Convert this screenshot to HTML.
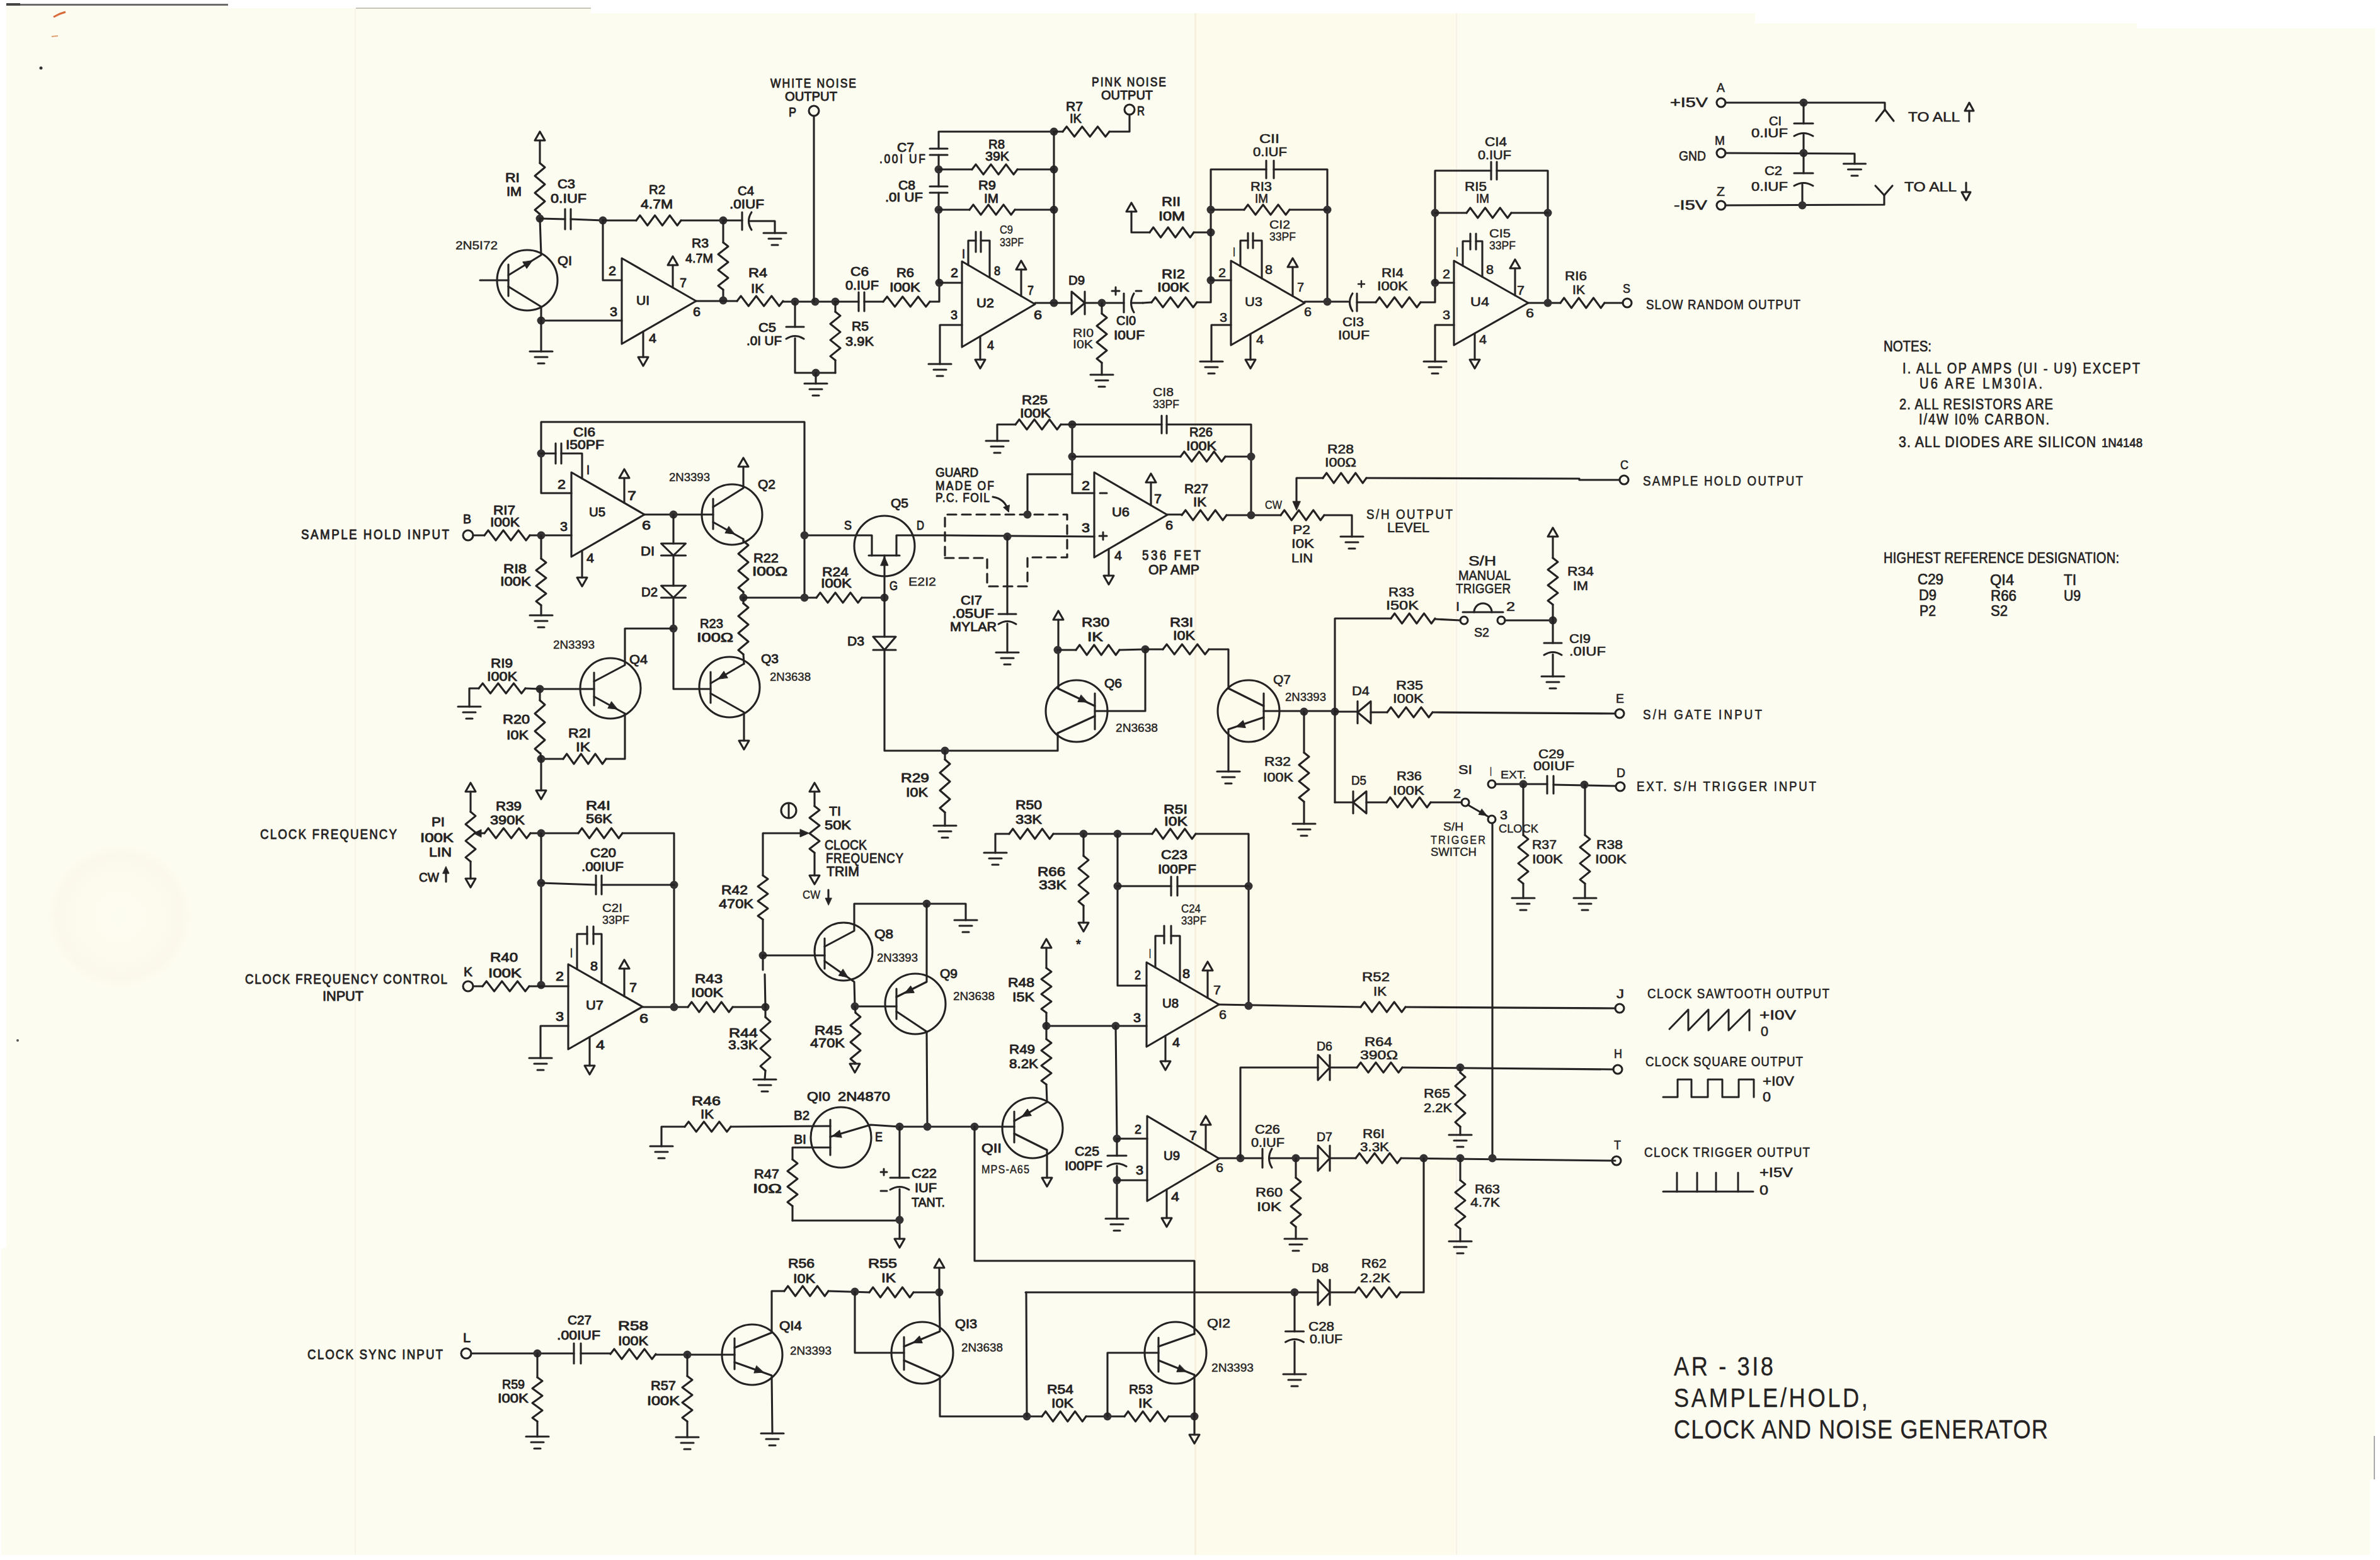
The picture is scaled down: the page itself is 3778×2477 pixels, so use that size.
<!DOCTYPE html>
<html><head><meta charset="utf-8"><style>
html,body{margin:0;padding:0;background:#ffffff;}
body{width:3778px;height:2477px;overflow:hidden;position:relative;}
svg{position:absolute;left:0;top:0;}
text{fill:#242222;stroke:#242222;stroke-width:0.9px;}
</style></head><body>
<svg width="3778" height="2477" viewBox="0 0 3778 2477">
<rect x="0" y="0" width="3778" height="2477" fill="#ffffff"/>
<path d="M10,8 L362,8 L362,13 L938,13 L938,21 L2786,21 L2786,37 L3392,37 L3392,45 L3770,45 L3770,2349 L3762,2349 L3762,2469 L2,2469 L2,1982 L10,1982 Z" fill="#fdfcf0"/>
<rect x="1898" y="21" width="412" height="2448" fill="#fdfbec"/>
<rect x="1896" y="21" width="3" height="2448" fill="#f6f0dc"/>
<rect x="2311" y="21" width="2" height="2448" fill="#f8f0e6"/>
<rect x="563" y="13" width="2" height="2456" fill="#f7f3e6"/>
<rect x="10" y="6" width="352" height="3" fill="#6a6a6a"/>
<rect x="10" y="5" width="22" height="4" fill="#444"/>
<defs><radialGradient id="stain"><stop offset="0" stop-color="#efe6cc" stop-opacity="0"/><stop offset="0.6" stop-color="#efe6cc" stop-opacity="0.07"/><stop offset="0.85" stop-color="#efe6cc" stop-opacity="0.16"/><stop offset="1" stop-color="#efe6cc" stop-opacity="0"/></radialGradient></defs>
<circle cx="190" cy="1455" r="115" fill="url(#stain)"/>
<circle cx="65" cy="108" r="2.5" fill="#333"/>
<circle cx="28" cy="1652" r="2" fill="#555"/>
<path d="M85,27 L95,22 L104,19" stroke="#d86a3a" stroke-width="3"/>
<path d="M82,58 L92,57" stroke="#e0a070" stroke-width="2"/>
<rect x="565" y="12" width="373" height="2" fill="#c8c4b8"/>
<rect x="3768" y="2280" width="2" height="69" fill="#aaaaaa"/>
<g fill="none" stroke="#242222" stroke-width="3.1" stroke-linejoin="round" stroke-linecap="round" font-family="Liberation Sans, sans-serif">
<g id="ink">
<path d="M857,209 L865.0,223 L849.0,223 Z"/>
<path d="M857.0,223.0 L857.0,259.0"/>
<path d="M857.0,259.0 L865.0,265.8 L849.0,279.2 L865.0,292.8 L849.0,306.2 L865.0,319.8 L849.0,333.2 L857.0,340.0"/>
<path d="M857.0,340.0 L857.0,347.0"/>
<circle cx="857" cy="347" r="6.5" fill="#353233" stroke="none"/>
<path d="M857.0,347.0 L897.0,348.0"/>
<path d="M897.0,332.0 L897.0,364.0"/>
<path d="M906.0,332.0 L906.0,364.0"/>
<path d="M906.0,348.0 L957.0,350.0"/>
<circle cx="957" cy="350" r="6.5" fill="#353233" stroke="none"/>
<path d="M957.0,350.0 L1010.0,350.0"/>
<path d="M1010.0,350.0 L1015.9,342.0 L1027.8,358.0 L1039.6,342.0 L1051.4,358.0 L1063.2,342.0 L1075.1,358.0 L1081.0,350.0"/>
<path d="M1081.0,350.0 L1148.0,350.0"/>
<circle cx="1148" cy="350" r="6.5" fill="#353233" stroke="none"/>
<path d="M1148.0,350.0 L1178.0,350.0"/>
<path d="M1178.0,337.0 L1178.0,365.0"/>
<path d="M1193,337.0 Q1184,351 1193,365.0"/>
<path d="M1190.0,351.0 L1230.0,351.0 L1230.0,370.0"/>
<path d="M1212.0,370.0 L1248.0,370.0"/>
<path d="M1220.0,379.0 L1240.0,379.0"/>
<path d="M1225.0,389.0 L1235.0,389.0"/>
<path d="M1148.0,350.0 L1148.0,385.0"/>
<path d="M1148.0,385.0 L1156.0,391.2 L1140.0,403.8 L1156.0,416.2 L1140.0,428.8 L1156.0,441.2 L1140.0,453.8 L1148.0,460.0"/>
<path d="M1148.0,460.0 L1148.0,477.0"/>
<circle cx="1148" cy="477" r="6.5" fill="#353233" stroke="none"/>
<path d="M987,410 L1105,478.0 L987,546 Z"/>
<path d="M957.0,350.0 L957.0,445.0 L987.0,445.0"/>
<path d="M859.0,509.0 L987.0,509.0"/>
<circle cx="859" cy="509" r="6.5" fill="#353233" stroke="none"/>
<path d="M1068.0,456.7 L1068.0,421.0"/>
<path d="M1068,407 L1076.0,421 L1060.0,421 Z"/>
<path d="M1021.0,526.4 L1021.0,567.0"/>
<path d="M1021,581 L1029.0,567 L1013.0,567 Z"/>
<path d="M1105.0,478.0 L1170.0,478.0"/>
<path d="M1170.0,478.0 L1176.1,470.0 L1188.2,486.0 L1200.4,470.0 L1212.6,486.0 L1224.8,470.0 L1236.9,486.0 L1243.0,478.0"/>
<path d="M1243.0,479.0 L1326.0,479.0"/>
<circle cx="1262" cy="479" r="6.5" fill="#353233" stroke="none"/>
<circle cx="1294" cy="479" r="6.5" fill="#353233" stroke="none"/>
<circle cx="1326" cy="479" r="6.5" fill="#353233" stroke="none"/>
<circle cx="837" cy="445" r="48" fill="none"/>
<path d="M762.0,445.0 L807.0,445.0"/>
<path d="M807.0,420.0 L807.0,470.0"/>
<path d="M807.0,437.0 L859.0,405.0 L857.0,347.0"/>
<path d="M845.0,414.0 L836.1,426.4 L829.9,416.1 Z" fill="#242222" stroke-width="1"/>
<path d="M807.0,455.0 L859.0,487.0 L859.0,558.0"/>
<path d="M841.0,558.0 L877.0,558.0"/>
<path d="M849.0,567.0 L869.0,567.0"/>
<path d="M854.0,577.0 L864.0,577.0"/>
<path d="M1262.0,479.0 L1262.0,519.0"/>
<path d="M1248.0,519.0 L1276.0,519.0"/>
<path d="M1248.0,538 Q1262,529 1276.0,538"/>
<path d="M1262.0,537.0 L1262.0,592.0 L1326.0,592.0"/>
<circle cx="1295" cy="592" r="6.5" fill="#353233" stroke="none"/>
<path d="M1295.0,592.0 L1295.0,609.0"/>
<path d="M1277.0,609.0 L1313.0,609.0"/>
<path d="M1285.0,618.0 L1305.0,618.0"/>
<path d="M1290.0,628.0 L1300.0,628.0"/>
<path d="M1326.0,479.0 L1326.0,495.0"/>
<path d="M1326.0,495.0 L1334.0,501.4 L1318.0,514.2 L1334.0,527.1 L1318.0,539.9 L1334.0,552.8 L1318.0,565.6 L1326.0,572.0"/>
<path d="M1326.0,572.0 L1326.0,592.0"/>
<text x="802" y="289" font-size="20.3" textLength="23" lengthAdjust="spacingAndGlyphs">RI</text>
<text x="804" y="311" font-size="20.3" textLength="24" lengthAdjust="spacingAndGlyphs">IM</text>
<text x="885" y="299" font-size="20.3" textLength="28" lengthAdjust="spacingAndGlyphs">C3</text>
<text x="874" y="322" font-size="20.3" textLength="57" lengthAdjust="spacingAndGlyphs">0.IUF</text>
<text x="1030" y="308" font-size="20.3" textLength="26" lengthAdjust="spacingAndGlyphs">R2</text>
<text x="1017" y="331" font-size="20.3" textLength="51" lengthAdjust="spacingAndGlyphs">4.7M</text>
<text x="1171" y="310" font-size="20.3" textLength="26" lengthAdjust="spacingAndGlyphs">C4</text>
<text x="1158" y="331" font-size="20.3" textLength="55" lengthAdjust="spacingAndGlyphs">.0IUF</text>
<text x="723" y="396" font-size="18.9" textLength="67" lengthAdjust="spacingAndGlyphs" style="stroke-width:0.4px">2N5I72</text>
<text x="885" y="421" font-size="20.3" textLength="23" lengthAdjust="spacingAndGlyphs">QI</text>
<text x="966" y="437" font-size="20.3" textLength="12" lengthAdjust="spacingAndGlyphs">2</text>
<text x="968" y="502" font-size="20.3" textLength="12" lengthAdjust="spacingAndGlyphs">3</text>
<text x="1010" y="484" font-size="20.3" textLength="21" lengthAdjust="spacingAndGlyphs">UI</text>
<text x="1079" y="456" font-size="20.3" textLength="11" lengthAdjust="spacingAndGlyphs">7</text>
<text x="1100" y="502" font-size="20.3" textLength="12" lengthAdjust="spacingAndGlyphs">6</text>
<text x="1030" y="544" font-size="20.3" textLength="12" lengthAdjust="spacingAndGlyphs">4</text>
<text x="1098" y="393" font-size="20.3" textLength="27" lengthAdjust="spacingAndGlyphs">R3</text>
<text x="1088" y="417" font-size="20.3" textLength="44" lengthAdjust="spacingAndGlyphs">4.7M</text>
<text x="1188" y="440" font-size="20.3" textLength="30" lengthAdjust="spacingAndGlyphs">R4</text>
<text x="1192" y="465" font-size="20.3" textLength="21" lengthAdjust="spacingAndGlyphs">IK</text>
<text x="1204" y="527" font-size="20.3" textLength="28" lengthAdjust="spacingAndGlyphs">C5</text>
<text x="1185" y="548" font-size="20.3" textLength="56" lengthAdjust="spacingAndGlyphs">.0I UF</text>
<text transform="translate(1223,139) scale(0.86,1)" x="0" y="0" font-size="20.3" textLength="158.1" lengthAdjust="spacing">WHITE NOISE</text>
<text x="1246" y="160" font-size="20.3" textLength="83" lengthAdjust="spacingAndGlyphs">OUTPUT</text>
<text x="1252" y="185" font-size="20.3" textLength="12" lengthAdjust="spacingAndGlyphs">P</text>
<circle cx="1292" cy="176" r="8" fill="none"/>
<path d="M1292.0,184.0 L1292.0,479.0"/>
<path d="M1326.0,479.0 L1363.0,479.0"/>
<path d="M1363.0,464.0 L1363.0,494.0"/>
<path d="M1372.0,464.0 L1372.0,494.0"/>
<path d="M1372.0,479.0 L1402.0,479.0"/>
<path d="M1402.0,479.0 L1408.2,471.0 L1420.5,487.0 L1432.8,471.0 L1445.2,487.0 L1457.5,471.0 L1469.8,487.0 L1476.0,479.0"/>
<path d="M1476.0,479.0 L1491.0,479.0 L1491.0,449.0"/>
<circle cx="1491" cy="449" r="6.5" fill="#353233" stroke="none"/>
<path d="M1491.0,449.0 L1527.0,449.0"/>
<path d="M1490.0,449.0 L1490.0,306.0"/>
<path d="M1490.0,296.0 L1490.0,246.0"/>
<path d="M1490.0,236.0 L1490.0,209.0 L1673.0,209.0"/>
<circle cx="1673" cy="209" r="6.5" fill="#353233" stroke="none"/>
<path d="M1476.0,236.0 L1504.0,236.0"/>
<path d="M1476.0,246.0 L1504.0,246.0"/>
<circle cx="1490" cy="269" r="6.5" fill="#353233" stroke="none"/>
<circle cx="1673" cy="269" r="6.5" fill="#353233" stroke="none"/>
<path d="M1490.0,269.0 L1543.0,269.0"/>
<path d="M1543.0,269.0 L1549.0,261.0 L1561.0,277.0 L1573.0,261.0 L1585.0,277.0 L1597.0,261.0 L1609.0,277.0 L1615.0,269.0"/>
<path d="M1615.0,269.0 L1673.0,269.0"/>
<path d="M1476.0,296.0 L1504.0,296.0"/>
<path d="M1476.0,306.0 L1504.0,306.0"/>
<circle cx="1490" cy="333" r="6.5" fill="#353233" stroke="none"/>
<circle cx="1673" cy="333" r="6.5" fill="#353233" stroke="none"/>
<path d="M1490.0,333.0 L1539.0,333.0"/>
<path d="M1539.0,333.0 L1545.0,325.0 L1557.0,341.0 L1569.0,325.0 L1581.0,341.0 L1593.0,325.0 L1605.0,341.0 L1611.0,333.0"/>
<path d="M1611.0,333.0 L1673.0,333.0"/>
<path d="M1673.0,209.0 L1673.0,481.0"/>
<circle cx="1673" cy="481" r="6.5" fill="#353233" stroke="none"/>
<path d="M1527,415 L1643,483.0 L1527,551 Z"/>
<path d="M1527.0,516.0 L1492.0,516.0 L1492.0,578.0"/>
<path d="M1474.0,578.0 L1510.0,578.0"/>
<path d="M1482.0,587.0 L1502.0,587.0"/>
<path d="M1487.0,597.0 L1497.0,597.0"/>
<path d="M1537.0,420.9 L1537.0,382.0 L1549.0,382.0"/>
<path d="M1571.0,440.8 L1571.0,382.0 L1557.0,382.0"/>
<path d="M1549.0,368.0 L1549.0,400.0"/>
<path d="M1557.0,368.0 L1557.0,400.0"/>
<path d="M1621.0,470.1 L1621.0,428.0"/>
<path d="M1621,414 L1629.0,428 L1613.0,428 Z"/>
<path d="M1556.0,534.0 L1556.0,571.0"/>
<path d="M1556,585 L1564.0,571 L1548.0,571 Z"/>
<path d="M1643.0,481.0 L1701.0,481.0"/>
<path d="M1701,463.0 L1722,481 L1701,499.0 Z"/>
<path d="M1722.0,463.0 L1722.0,499.0"/>
<path d="M1722.0,481.0 L1784.0,481.0"/>
<circle cx="1749" cy="481" r="6.5" fill="#353233" stroke="none"/>
<path d="M1749.0,481.0 L1749.0,498.0"/>
<path d="M1749.0,498.0 L1757.0,504.5 L1741.0,517.5 L1757.0,530.5 L1741.0,543.5 L1757.0,556.5 L1741.0,569.5 L1749.0,576.0"/>
<path d="M1749.0,576.0 L1749.0,595.0"/>
<path d="M1731.0,595.0 L1767.0,595.0"/>
<path d="M1739.0,604.0 L1759.0,604.0"/>
<path d="M1744.0,614.0 L1754.0,614.0"/>
<path d="M1784.0,466.0 L1784.0,496.0"/>
<path d="M1800,466.0 Q1791,481 1800,496.0"/>
<path d="M1797.0,481.0 L1814.0,481.0"/>
<path d="M1673.0,209.0 L1687.0,209.0"/>
<path d="M1687.0,209.0 L1693.2,201.0 L1705.5,217.0 L1717.8,201.0 L1730.2,217.0 L1742.5,201.0 L1754.8,217.0 L1761.0,209.0"/>
<path d="M1761.0,209.0 L1793.0,209.0 L1793.0,182.0"/>
<circle cx="1793" cy="174" r="8" fill="none"/>
<text x="1424" y="241" font-size="20.3" textLength="27" lengthAdjust="spacingAndGlyphs">C7</text>
<text transform="translate(1396,259) scale(0.86,1)" x="0" y="0" font-size="20.3" textLength="84.9" lengthAdjust="spacing">.00I UF</text>
<text x="1569" y="236" font-size="20.3" textLength="26" lengthAdjust="spacingAndGlyphs">R8</text>
<text x="1564" y="255" font-size="20.3" textLength="38" lengthAdjust="spacingAndGlyphs">39K</text>
<text x="1426" y="301" font-size="20.3" textLength="27" lengthAdjust="spacingAndGlyphs">C8</text>
<text x="1405" y="320" font-size="20.3" textLength="60" lengthAdjust="spacingAndGlyphs">.0I UF</text>
<text x="1553" y="301" font-size="20.3" textLength="28" lengthAdjust="spacingAndGlyphs">R9</text>
<text x="1562" y="322" font-size="20.3" textLength="23" lengthAdjust="spacingAndGlyphs">IM</text>
<text x="1587" y="371" font-size="18.9" textLength="21" lengthAdjust="spacingAndGlyphs" style="stroke-width:0.4px">C9</text>
<text x="1587" y="391" font-size="18.9" textLength="38" lengthAdjust="spacingAndGlyphs" style="stroke-width:0.4px">33PF</text>
<text x="1527" y="410" font-size="20.3" textLength="5" lengthAdjust="spacingAndGlyphs">I</text>
<text x="1509" y="440" font-size="20.3" textLength="12" lengthAdjust="spacingAndGlyphs">2</text>
<text x="1578" y="437" font-size="20.3" textLength="10" lengthAdjust="spacingAndGlyphs">8</text>
<text x="1631" y="468" font-size="20.3" textLength="10" lengthAdjust="spacingAndGlyphs">7</text>
<text x="1641" y="507" font-size="20.3" textLength="13" lengthAdjust="spacingAndGlyphs">6</text>
<text x="1509" y="507" font-size="20.3" textLength="11" lengthAdjust="spacingAndGlyphs">3</text>
<text x="1567" y="555" font-size="20.3" textLength="11" lengthAdjust="spacingAndGlyphs">4</text>
<text x="1550" y="488" font-size="20.3" textLength="28" lengthAdjust="spacingAndGlyphs">U2</text>
<text x="1350" y="438" font-size="20.3" textLength="29" lengthAdjust="spacingAndGlyphs">C6</text>
<text x="1342" y="460" font-size="20.3" textLength="53" lengthAdjust="spacingAndGlyphs">0.IUF</text>
<text x="1423" y="440" font-size="20.3" textLength="28" lengthAdjust="spacingAndGlyphs">R6</text>
<text x="1412" y="463" font-size="20.3" textLength="49" lengthAdjust="spacingAndGlyphs">I00K</text>
<text x="1352" y="525" font-size="20.3" textLength="27" lengthAdjust="spacingAndGlyphs">R5</text>
<text x="1342" y="549" font-size="20.3" textLength="45" lengthAdjust="spacingAndGlyphs">3.9K</text>
<text x="1696" y="452" font-size="20.3" textLength="26" lengthAdjust="spacingAndGlyphs">D9</text>
<text x="1703" y="535" font-size="18.9" textLength="33" lengthAdjust="spacingAndGlyphs" style="stroke-width:0.4px">RI0</text>
<text x="1703" y="553" font-size="18.9" textLength="32" lengthAdjust="spacingAndGlyphs" style="stroke-width:0.4px">I0K</text>
<text x="1772" y="516" font-size="20.3" textLength="31" lengthAdjust="spacingAndGlyphs">CI0</text>
<text x="1768" y="539" font-size="20.3" textLength="49" lengthAdjust="spacingAndGlyphs">I0UF</text>
<text x="1692" y="176" font-size="20.3" textLength="27" lengthAdjust="spacingAndGlyphs">R7</text>
<text x="1698" y="195" font-size="20.3" textLength="19" lengthAdjust="spacingAndGlyphs">IK</text>
<text transform="translate(1733,137) scale(0.86,1)" x="0" y="0" font-size="20.3" textLength="137.2" lengthAdjust="spacing">PINK NOISE</text>
<text x="1748" y="158" font-size="20.3" textLength="82" lengthAdjust="spacingAndGlyphs">OUTPUT</text>
<text x="1805" y="183" font-size="20.3" textLength="12" lengthAdjust="spacingAndGlyphs">R</text>
<path d="M1765.0,462.0 L1777.0,462.0" stroke-width="3"/>
<path d="M1771.0,456.0 L1771.0,468.0" stroke-width="3"/>
<path d="M1803.0,462.0 L1812.0,462.0" stroke-width="3"/>
<path d="M1796,322 L1804.0,336 L1788.0,336 Z"/>
<path d="M1796.0,336.0 L1796.0,369.0 L1825.0,369.0"/>
<path d="M1825.0,369.0 L1830.8,361.0 L1842.5,377.0 L1854.2,361.0 L1865.8,377.0 L1877.5,361.0 L1889.2,377.0 L1895.0,369.0"/>
<path d="M1895.0,369.0 L1922.0,369.0"/>
<circle cx="1922" cy="369" r="6.5" fill="#353233" stroke="none"/>
<path d="M1814.0,481.0 L1828.0,480.0"/>
<path d="M1828.0,480.0 L1834.0,472.0 L1846.0,488.0 L1858.0,472.0 L1870.0,488.0 L1882.0,472.0 L1894.0,488.0 L1900.0,480.0"/>
<path d="M1900.0,480.0 L1922.0,480.0 L1922.0,445.0"/>
<circle cx="1922" cy="445" r="6.5" fill="#353233" stroke="none"/>
<path d="M1922.0,445.0 L1954.0,445.0"/>
<path d="M1922.0,445.0 L1922.0,269.0 L2010.0,269.0"/>
<path d="M2010.0,255.0 L2010.0,283.0"/>
<path d="M2022.0,255.0 L2022.0,283.0"/>
<path d="M2022.0,269.0 L2107.0,269.0 L2107.0,479.0"/>
<circle cx="1922" cy="333" r="6.5" fill="#353233" stroke="none"/>
<circle cx="2107" cy="333" r="6.5" fill="#353233" stroke="none"/>
<path d="M1922.0,333.0 L1975.0,333.0"/>
<path d="M1975.0,333.0 L1981.0,325.0 L1993.0,341.0 L2005.0,325.0 L2017.0,341.0 L2029.0,325.0 L2041.0,341.0 L2047.0,333.0"/>
<path d="M2047.0,333.0 L2107.0,333.0"/>
<path d="M1954,414 L2071,481.0 L1954,548 Z"/>
<path d="M1954.0,516.0 L1923.0,516.0 L1923.0,574.0"/>
<path d="M1905.0,574.0 L1941.0,574.0"/>
<path d="M1913.0,583.0 L1933.0,583.0"/>
<path d="M1918.0,593.0 L1928.0,593.0"/>
<path d="M1969.0,422.6 L1969.0,382.0 L1981.0,382.0"/>
<path d="M1981.0,370.0 L1981.0,394.0"/>
<path d="M2003.0,442.1 L2003.0,382.0 L1989.0,382.0"/>
<path d="M1989.0,370.0 L1989.0,394.0"/>
<path d="M2052.0,470.1 L2052.0,424.0"/>
<path d="M2052,410 L2060.0,424 L2044.0,424 Z"/>
<path d="M1985.0,530.2 L1985.0,571.0"/>
<path d="M1985,585 L1993.0,571 L1977.0,571 Z"/>
<path d="M2071.0,479.0 L2140.0,479.0"/>
<circle cx="2107" cy="479" r="6.5" fill="#353233" stroke="none"/>
<path d="M2147,466.0 Q2138,480 2147,494.0"/>
<path d="M2154.0,466.0 L2154.0,494.0"/>
<path d="M2154.0,480.0 L2184.0,480.0"/>
<path d="M2184.0,480.0 L2189.9,472.0 L2201.8,488.0 L2213.6,472.0 L2225.4,488.0 L2237.2,472.0 L2249.1,488.0 L2255.0,480.0"/>
<path d="M2255.0,480.0 L2278.0,480.0 L2278.0,449.0"/>
<circle cx="2278" cy="449" r="6.5" fill="#353233" stroke="none"/>
<path d="M2276.0,457.0 L2276.0,451.0" stroke-width="0.1"/>
<path d="M2278.0,449.0 L2308.0,449.0"/>
<path d="M2161.0,446.0 L2161.0,456.0" stroke-width="2.5"/>
<path d="M2156.0,451.0 L2166.0,451.0" stroke-width="2.5"/>
<text x="1999" y="227" font-size="20.3" textLength="32" lengthAdjust="spacingAndGlyphs" style="stroke-width:0.6px">CII</text>
<text x="1989" y="248" font-size="20.3" textLength="54" lengthAdjust="spacingAndGlyphs" style="stroke-width:0.6px">0.IUF</text>
<text x="1985" y="303" font-size="20.3" textLength="34" lengthAdjust="spacingAndGlyphs" style="stroke-width:0.6px">RI3</text>
<text x="1992" y="322" font-size="20.3" textLength="21" lengthAdjust="spacingAndGlyphs" style="stroke-width:0.6px">IM</text>
<text x="1844" y="327" font-size="20.3" textLength="30" lengthAdjust="spacingAndGlyphs">RII</text>
<text x="1839" y="350" font-size="20.3" textLength="42" lengthAdjust="spacingAndGlyphs">I0M</text>
<text x="2015" y="363" font-size="18.9" textLength="33" lengthAdjust="spacingAndGlyphs" style="stroke-width:0.4px">CI2</text>
<text x="2015" y="382" font-size="18.9" textLength="42" lengthAdjust="spacingAndGlyphs" style="stroke-width:0.4px">33PF</text>
<text x="1844" y="442" font-size="20.3" textLength="37" lengthAdjust="spacingAndGlyphs">RI2</text>
<text x="1837" y="463" font-size="20.3" textLength="51" lengthAdjust="spacingAndGlyphs">I00K</text>
<text x="1934" y="440" font-size="20.3" textLength="12" lengthAdjust="spacingAndGlyphs" style="stroke-width:0.6px">2</text>
<text x="2008" y="435" font-size="20.3" textLength="12" lengthAdjust="spacingAndGlyphs" style="stroke-width:0.6px">8</text>
<text x="2059" y="463" font-size="20.3" textLength="11" lengthAdjust="spacingAndGlyphs" style="stroke-width:0.6px">7</text>
<text x="2070" y="502" font-size="20.3" textLength="12" lengthAdjust="spacingAndGlyphs" style="stroke-width:0.6px">6</text>
<text x="1936" y="511" font-size="20.3" textLength="12" lengthAdjust="spacingAndGlyphs" style="stroke-width:0.6px">3</text>
<text x="1994" y="546" font-size="20.3" textLength="12" lengthAdjust="spacingAndGlyphs" style="stroke-width:0.6px">4</text>
<text x="1957" y="407" font-size="20.3" textLength="4" lengthAdjust="spacingAndGlyphs" style="stroke-width:0.6px">I</text>
<text x="1976" y="486" font-size="20.3" textLength="28" lengthAdjust="spacingAndGlyphs" style="stroke-width:0.6px">U3</text>
<text x="2131" y="518" font-size="20.3" textLength="34" lengthAdjust="spacingAndGlyphs" style="stroke-width:0.6px">CI3</text>
<text x="2124" y="539" font-size="20.3" textLength="50" lengthAdjust="spacingAndGlyphs" style="stroke-width:0.6px">I0UF</text>
<text x="2193" y="440" font-size="20.3" textLength="35" lengthAdjust="spacingAndGlyphs" style="stroke-width:0.6px">RI4</text>
<text x="2186" y="461" font-size="20.3" textLength="49" lengthAdjust="spacingAndGlyphs" style="stroke-width:0.6px">I00K</text>
<text x="1830" y="629" font-size="18.9" textLength="33" lengthAdjust="spacingAndGlyphs" style="stroke-width:0.4px">CI8</text>
<text x="1830" y="648" font-size="18.9" textLength="42" lengthAdjust="spacingAndGlyphs" style="stroke-width:0.4px">33PF</text>
<path d="M2278.0,449.0 L2278.0,271.0 L2367.0,271.0"/>
<path d="M2367.0,257.0 L2367.0,285.0"/>
<path d="M2376.0,257.0 L2376.0,285.0"/>
<path d="M2376.0,271.0 L2457.0,271.0 L2457.0,481.0"/>
<circle cx="2278" cy="338" r="6.5" fill="#353233" stroke="none"/>
<circle cx="2457" cy="338" r="6.5" fill="#353233" stroke="none"/>
<path d="M2278.0,338.0 L2328.0,338.0"/>
<path d="M2328.0,338.0 L2333.9,330.0 L2345.8,346.0 L2357.6,330.0 L2369.4,346.0 L2381.2,330.0 L2393.1,346.0 L2399.0,338.0"/>
<path d="M2399.0,338.0 L2457.0,338.0"/>
<path d="M2308,414 L2426,481.0 L2308,548 Z"/>
<path d="M2308.0,516.0 L2278.0,516.0 L2278.0,574.0"/>
<path d="M2260.0,574.0 L2296.0,574.0"/>
<path d="M2268.0,583.0 L2288.0,583.0"/>
<path d="M2273.0,593.0 L2283.0,593.0"/>
<path d="M2322.0,421.9 L2322.0,383.0 L2334.0,383.0"/>
<path d="M2334.0,371.0 L2334.0,396.0"/>
<path d="M2353.0,439.6 L2353.0,383.0 L2343.0,383.0"/>
<path d="M2343.0,371.0 L2343.0,396.0"/>
<path d="M2405.0,469.1 L2405.0,426.0"/>
<path d="M2405,412 L2413.0,426 L2397.0,426 Z"/>
<path d="M2341.0,529.3 L2341.0,571.0"/>
<path d="M2341,585 L2349.0,571 L2333.0,571 Z"/>
<path d="M2426.0,481.0 L2477.0,481.0"/>
<circle cx="2457" cy="481" r="6.5" fill="#353233" stroke="none"/>
<path d="M2477.0,481.0 L2482.8,473.0 L2494.5,489.0 L2506.2,473.0 L2517.8,489.0 L2529.5,473.0 L2541.2,489.0 L2547.0,481.0"/>
<path d="M2547.0,481.0 L2576.0,481.0"/>
<circle cx="2583" cy="481" r="7" fill="none"/>
<text x="2357" y="232" font-size="20.3" textLength="35" lengthAdjust="spacingAndGlyphs" style="stroke-width:0.6px">CI4</text>
<text x="2346" y="253" font-size="20.3" textLength="53" lengthAdjust="spacingAndGlyphs" style="stroke-width:0.6px">0.IUF</text>
<text x="2325" y="303" font-size="20.3" textLength="35" lengthAdjust="spacingAndGlyphs" style="stroke-width:0.6px">RI5</text>
<text x="2343" y="322" font-size="20.3" textLength="21" lengthAdjust="spacingAndGlyphs" style="stroke-width:0.6px">IM</text>
<text x="2364" y="377" font-size="18.9" textLength="34" lengthAdjust="spacingAndGlyphs" style="stroke-width:0.4px">CI5</text>
<text x="2364" y="396" font-size="18.9" textLength="42" lengthAdjust="spacingAndGlyphs" style="stroke-width:0.4px">33PF</text>
<text x="2290" y="442" font-size="20.3" textLength="12" lengthAdjust="spacingAndGlyphs" style="stroke-width:0.6px">2</text>
<text x="2359" y="435" font-size="20.3" textLength="12" lengthAdjust="spacingAndGlyphs" style="stroke-width:0.6px">8</text>
<text x="2290" y="507" font-size="20.3" textLength="12" lengthAdjust="spacingAndGlyphs" style="stroke-width:0.6px">3</text>
<text x="2348" y="546" font-size="20.3" textLength="12" lengthAdjust="spacingAndGlyphs" style="stroke-width:0.6px">4</text>
<text x="2311" y="407" font-size="20.3" textLength="4" lengthAdjust="spacingAndGlyphs" style="stroke-width:0.6px">I</text>
<text x="2334" y="486" font-size="20.3" textLength="30" lengthAdjust="spacingAndGlyphs" style="stroke-width:0.6px">U4</text>
<text x="2408" y="468" font-size="20.3" textLength="12" lengthAdjust="spacingAndGlyphs" style="stroke-width:0.6px">7</text>
<text x="2422" y="504" font-size="20.3" textLength="13" lengthAdjust="spacingAndGlyphs" style="stroke-width:0.6px">6</text>
<text x="2484" y="445" font-size="20.3" textLength="35" lengthAdjust="spacingAndGlyphs" style="stroke-width:0.6px">RI6</text>
<text x="2496" y="467" font-size="20.3" textLength="20" lengthAdjust="spacingAndGlyphs" style="stroke-width:0.6px">IK</text>
<text x="2576" y="465" font-size="20.3" textLength="12" lengthAdjust="spacingAndGlyphs" style="stroke-width:0.6px">S</text>
<text transform="translate(2613,491) scale(0.86,1)" x="0" y="0" font-size="21.8" textLength="284.9" lengthAdjust="spacing" style="stroke-width:0.6px">SLOW RANDOM OUTPUT</text>
<circle cx="2732" cy="163" r="7" fill="none"/>
<path d="M2739.0,163.0 L2992.0,163.0 L2992.0,174.0"/>
<circle cx="2863" cy="163" r="6.5" fill="#353233" stroke="none"/>
<path d="M2978.0,192.0 L2992.0,174.0 L3006.0,192.0"/>
<path d="M2863.0,163.0 L2863.0,196.0"/>
<path d="M2848.0,196.0 L2878.0,196.0"/>
<path d="M2848.0,216 Q2863,207 2878.0,216"/>
<path d="M2863.0,214.0 L2863.0,243.0"/>
<circle cx="2732" cy="243" r="7" fill="none"/>
<path d="M2739.0,243.0 L2944.0,244.0 L2944.0,260.0"/>
<circle cx="2863" cy="243" r="6.5" fill="#353233" stroke="none"/>
<path d="M2926.5,260.0 L2961.5,260.0"/>
<path d="M2933.5,269.0 L2954.5,269.0"/>
<path d="M2939.0,279.0 L2949.0,279.0"/>
<path d="M2863.0,243.0 L2863.0,275.0"/>
<path d="M2848.0,275.0 L2878.0,275.0"/>
<path d="M2848.0,295 Q2863,286 2878.0,295"/>
<path d="M2861.0,293.0 L2861.0,326.0"/>
<circle cx="2732" cy="326" r="7" fill="none"/>
<path d="M2739.0,326.0 L2991.0,325.0 L2991.0,310.0"/>
<circle cx="2861" cy="326" r="6.5" fill="#353233" stroke="none"/>
<path d="M2977.0,295.0 L2991.0,310.0 L3004.0,295.0"/>
<path d="M3126,163 L3133.0,176 L3119.0,176 Z"/>
<path d="M3126.0,176.0 L3126.0,193.0"/>
<path d="M3121.0,290.0 L3121.0,304.0"/>
<path d="M3121,318 L3128.0,305 L3114.0,305 Z"/>
<text x="2651" y="170" font-size="21.8" textLength="60" lengthAdjust="spacingAndGlyphs" style="stroke-width:0.6px">+I5V</text>
<text x="2725" y="146" font-size="20.3" textLength="13" lengthAdjust="spacingAndGlyphs" style="stroke-width:0.6px">A</text>
<text x="2808" y="199" font-size="20.3" textLength="20" lengthAdjust="spacingAndGlyphs" style="stroke-width:0.6px">CI</text>
<text x="2780" y="218" font-size="20.3" textLength="58" lengthAdjust="spacingAndGlyphs" style="stroke-width:0.6px">0.IUF</text>
<text x="2722" y="230" font-size="20.3" textLength="16" lengthAdjust="spacingAndGlyphs" style="stroke-width:0.6px">M</text>
<text x="2665" y="255" font-size="21.8" textLength="43" lengthAdjust="spacingAndGlyphs" style="stroke-width:0.6px">GND</text>
<text x="2801" y="278" font-size="20.3" textLength="28" lengthAdjust="spacingAndGlyphs" style="stroke-width:0.6px">C2</text>
<text x="2780" y="303" font-size="20.3" textLength="58" lengthAdjust="spacingAndGlyphs" style="stroke-width:0.6px">0.IUF</text>
<text x="2725" y="311" font-size="20.3" textLength="13" lengthAdjust="spacingAndGlyphs" style="stroke-width:0.6px">Z</text>
<text x="2657" y="333" font-size="21.8" textLength="53" lengthAdjust="spacingAndGlyphs" style="stroke-width:0.6px">-I5V</text>
<text x="3029" y="193" font-size="21.8" textLength="82" lengthAdjust="spacingAndGlyphs" style="stroke-width:0.6px">TO ALL</text>
<text x="3023" y="304" font-size="21.8" textLength="83" lengthAdjust="spacingAndGlyphs" style="stroke-width:0.6px">TO ALL</text>
<text x="2990" y="558" font-size="23.3" textLength="76" lengthAdjust="spacingAndGlyphs" style="stroke-width:0.7px">NOTES:</text>
<text transform="translate(3020,593) scale(0.86,1)" x="0" y="0" font-size="23.3" textLength="438.4" lengthAdjust="spacing" style="stroke-width:0.7px">I. ALL OP AMPS (UI - U9) EXCEPT</text>
<text transform="translate(3047,617) scale(0.86,1)" x="0" y="0" font-size="23.3" textLength="226.7" lengthAdjust="spacing" style="stroke-width:0.7px">U6 ARE LM30IA.</text>
<text transform="translate(3015,650) scale(0.86,1)" x="0" y="0" font-size="23.3" textLength="283.7" lengthAdjust="spacing" style="stroke-width:0.7px">2. ALL RESISTORS ARE</text>
<text transform="translate(3046,674) scale(0.86,1)" x="0" y="0" font-size="23.3" textLength="240.7" lengthAdjust="spacing" style="stroke-width:0.7px">I/4W I0% CARBON.</text>
<text transform="translate(3014,710) scale(0.86,1)" x="0" y="0" font-size="24.7" textLength="364.0" lengthAdjust="spacing" style="stroke-width:0.7px">3. ALL DIODES ARE SILICON</text>
<text x="3336" y="710" font-size="20.3" textLength="65" lengthAdjust="spacingAndGlyphs" style="stroke-width:0.7px">1N4148</text>
<text transform="translate(2990,894) scale(0.86,1)" x="0" y="0" font-size="23.3" textLength="434.9" lengthAdjust="spacing" style="stroke-width:0.7px">HIGHEST REFERENCE DESIGNATION:</text>
<text x="3044" y="928" font-size="23.3" textLength="41" lengthAdjust="spacingAndGlyphs" style="stroke-width:0.7px">C29</text>
<text x="3159" y="929" font-size="23.3" textLength="38" lengthAdjust="spacingAndGlyphs" style="stroke-width:0.7px">QI4</text>
<text x="3276" y="929" font-size="23.3" textLength="20" lengthAdjust="spacingAndGlyphs" style="stroke-width:0.7px">TI</text>
<text x="3046" y="953" font-size="23.3" textLength="28" lengthAdjust="spacingAndGlyphs" style="stroke-width:0.7px">D9</text>
<text x="3160" y="954" font-size="23.3" textLength="41" lengthAdjust="spacingAndGlyphs" style="stroke-width:0.7px">R66</text>
<text x="3276" y="954" font-size="23.3" textLength="27" lengthAdjust="spacingAndGlyphs" style="stroke-width:0.7px">U9</text>
<text x="3047" y="978" font-size="23.3" textLength="26" lengthAdjust="spacingAndGlyphs" style="stroke-width:0.7px">P2</text>
<text x="3160" y="978" font-size="23.3" textLength="27" lengthAdjust="spacingAndGlyphs" style="stroke-width:0.7px">S2</text>
<path d="M907,750 L1023,817.0 L907,884 Z"/>
<circle cx="743" cy="850" r="8" fill="none"/>
<path d="M751.0,850.0 L769.0,850.0"/>
<path d="M769.0,850.0 L775.0,842.0 L787.0,858.0 L799.0,842.0 L811.0,858.0 L823.0,842.0 L835.0,858.0 L841.0,850.0"/>
<path d="M841.0,850.0 L907.0,850.0"/>
<circle cx="859" cy="850" r="6.5" fill="#353233" stroke="none"/>
<path d="M859.0,850.0 L859.0,887.0"/>
<path d="M859.0,887.0 L867.0,893.2 L851.0,905.5 L867.0,917.8 L851.0,930.2 L867.0,942.5 L851.0,954.8 L859.0,961.0"/>
<path d="M859.0,961.0 L859.0,977.0"/>
<path d="M841.0,977.0 L877.0,977.0"/>
<path d="M849.0,986.0 L869.0,986.0"/>
<path d="M854.0,996.0 L864.0,996.0"/>
<path d="M907.0,783.0 L859.0,783.0 L859.0,670.0 L1277.0,670.0 L1277.0,949.0"/>
<circle cx="859" cy="720" r="6.5" fill="#353233" stroke="none"/>
<path d="M859.0,720.0 L882.0,720.0"/>
<path d="M882.0,704.0 L882.0,736.0"/>
<path d="M891.0,704.0 L891.0,736.0"/>
<path d="M891.0,720.0 L924.0,720.0 L924.0,759.8"/>
<path d="M991.0,798.5 L991.0,759.0"/>
<path d="M991,745 L999.0,759 L983.0,759 Z"/>
<path d="M924.0,874.2 L924.0,917.0"/>
<path d="M924,931 L932.0,917 L916.0,917 Z"/>
<path d="M1023.0,817.0 L1132.0,817.0"/>
<circle cx="1069" cy="817" r="6.5" fill="#353233" stroke="none"/>
<path d="M1069.0,817.0 L1069.0,863.0"/>
<path d="M1049.5,863 L1088.5,863 L1069,882 Z"/>
<path d="M1049.5,882.0 L1088.5,882.0"/>
<path d="M1069.0,882.0 L1069.0,930.0"/>
<path d="M1049.5,930 L1088.5,930 L1069,949 Z"/>
<path d="M1049.5,949.0 L1088.5,949.0"/>
<path d="M1069.0,949.0 L1069.0,1094.0 L1128.0,1094.0"/>
<circle cx="1069" cy="998" r="6.5" fill="#353233" stroke="none"/>
<text transform="translate(478,856) scale(0.86,1)" x="0" y="0" font-size="21.8" textLength="273.3" lengthAdjust="spacing">SAMPLE HOLD INPUT</text>
<text x="735" y="831" font-size="20.3" textLength="13" lengthAdjust="spacingAndGlyphs">B</text>
<text x="783" y="817" font-size="20.3" textLength="35" lengthAdjust="spacingAndGlyphs">RI7</text>
<text x="778" y="836" font-size="20.3" textLength="47" lengthAdjust="spacingAndGlyphs">I00K</text>
<text x="910" y="693" font-size="20.3" textLength="35" lengthAdjust="spacingAndGlyphs">CI6</text>
<text x="898" y="713" font-size="20.3" textLength="61" lengthAdjust="spacingAndGlyphs">I50PF</text>
<text x="931" y="753" font-size="20.3" textLength="5" lengthAdjust="spacingAndGlyphs">I</text>
<text x="885" y="776" font-size="20.3" textLength="13" lengthAdjust="spacingAndGlyphs">2</text>
<text x="889" y="843" font-size="20.3" textLength="12" lengthAdjust="spacingAndGlyphs">3</text>
<text x="935" y="820" font-size="20.3" textLength="26" lengthAdjust="spacingAndGlyphs">U5</text>
<text x="996" y="794" font-size="20.3" textLength="14" lengthAdjust="spacingAndGlyphs">7</text>
<text x="1019" y="841" font-size="20.3" textLength="14" lengthAdjust="spacingAndGlyphs">6</text>
<text x="931" y="893" font-size="20.3" textLength="12" lengthAdjust="spacingAndGlyphs">4</text>
<text x="799" y="910" font-size="20.3" textLength="37" lengthAdjust="spacingAndGlyphs">RI8</text>
<text x="794" y="930" font-size="20.3" textLength="49" lengthAdjust="spacingAndGlyphs">I00K</text>
<text x="1017" y="882" font-size="20.3" textLength="22" lengthAdjust="spacingAndGlyphs">DI</text>
<text x="1018" y="947" font-size="20.3" textLength="26" lengthAdjust="spacingAndGlyphs">D2</text>
<circle cx="1162" cy="817" r="48" fill="none"/>
<path d="M1132.0,792.0 L1132.0,840.0"/>
<path d="M1132.0,805.0 L1180.0,775.0 L1180.0,741.0"/>
<path d="M1180,727 L1188.0,741 L1172.0,741 Z"/>
<path d="M1132.0,829.0 L1180.0,856.0"/>
<path d="M1166.0,848.0 L1150.9,846.4 L1156.7,835.9 Z" fill="#242222" stroke-width="1"/>
<path d="M1180.0,856.0 L1180.0,859.0"/>
<path d="M1180.0,859.0 L1188.0,865.8 L1172.0,879.2 L1188.0,892.8 L1172.0,906.2 L1188.0,919.8 L1172.0,933.2 L1180.0,940.0"/>
<path d="M1180.0,940.0 L1180.0,949.0"/>
<circle cx="1180" cy="949" r="6.5" fill="#353233" stroke="none"/>
<path d="M1180.0,949.0 L1296.0,949.0"/>
<circle cx="1277" cy="949" r="6.5" fill="#353233" stroke="none"/>
<path d="M1296.0,949.0 L1302.0,941.0 L1314.0,957.0 L1326.0,941.0 L1338.0,957.0 L1350.0,941.0 L1362.0,957.0 L1368.0,949.0"/>
<path d="M1368.0,949.0 L1404.0,949.0"/>
<circle cx="1404" cy="949" r="6.5" fill="#353233" stroke="none"/>
<path d="M1180.0,949.0 L1180.0,958.0"/>
<path d="M1180.0,958.0 L1188.0,964.8 L1172.0,978.2 L1188.0,991.8 L1172.0,1005.2 L1188.0,1018.8 L1172.0,1032.2 L1180.0,1039.0"/>
<path d="M1180.0,1039.0 L1181.0,1054.0"/>
<text x="1062" y="764" font-size="18.9" textLength="65" lengthAdjust="spacingAndGlyphs" style="stroke-width:0.4px">2N3393</text>
<text x="1203" y="776" font-size="20.3" textLength="28" lengthAdjust="spacingAndGlyphs">Q2</text>
<text x="1196" y="893" font-size="20.3" textLength="40" lengthAdjust="spacingAndGlyphs">R22</text>
<text x="1194" y="914" font-size="20.3" textLength="56" lengthAdjust="spacingAndGlyphs">I00Ω</text>
<text x="1111" y="997" font-size="20.3" textLength="37" lengthAdjust="spacingAndGlyphs">R23</text>
<text x="1106" y="1019" font-size="20.3" textLength="58" lengthAdjust="spacingAndGlyphs">I00Ω</text>
<text x="1305" y="915" font-size="20.3" textLength="42" lengthAdjust="spacingAndGlyphs">R24</text>
<text x="1303" y="933" font-size="20.3" textLength="49" lengthAdjust="spacingAndGlyphs">I00K</text>
<circle cx="1158" cy="1091" r="48" fill="none"/>
<path d="M1128.0,1067.0 L1128.0,1116.0"/>
<path d="M1181.0,1054.0 L1128.0,1085.0"/>
<path d="M1140.0,1078.0 L1149.1,1065.7 L1155.1,1076.1 Z" fill="#242222" stroke-width="1"/>
<path d="M1128.0,1101.0 L1181.0,1131.0 L1181.0,1176.0"/>
<path d="M1181,1190 L1189.0,1176 L1173.0,1176 Z"/>
<text x="1208" y="1053" font-size="20.3" textLength="28" lengthAdjust="spacingAndGlyphs">Q3</text>
<text x="1222" y="1081" font-size="18.9" textLength="65" lengthAdjust="spacingAndGlyphs" style="stroke-width:0.4px">2N3638</text>
<circle cx="969" cy="1093" r="48" fill="none"/>
<path d="M943.0,1068.0 L943.0,1120.0"/>
<path d="M857.0,1094.0 L943.0,1094.0"/>
<circle cx="857" cy="1094" r="6.5" fill="#353233" stroke="none"/>
<path d="M943.0,1082.0 L992.0,1056.0 L992.0,998.0 L1069.0,998.0"/>
<path d="M943.0,1106.0 L992.0,1133.0"/>
<path d="M980.0,1126.0 L964.8,1124.6 L970.5,1114.1 Z" fill="#242222" stroke-width="1"/>
<path d="M992.0,1133.0 L992.0,1205.0 L962.0,1205.0"/>
<path d="M894.0,1205.0 L899.7,1197.0 L911.0,1213.0 L922.3,1197.0 L933.7,1213.0 L945.0,1197.0 L956.3,1213.0 L962.0,1205.0"/>
<path d="M894.0,1205.0 L859.0,1205.0"/>
<circle cx="859" cy="1205" r="6.5" fill="#353233" stroke="none"/>
<path d="M745.0,1122.0 L745.0,1093.0 L760.0,1093.0"/>
<path d="M760.0,1093.0 L766.2,1085.0 L778.5,1101.0 L790.8,1085.0 L803.2,1101.0 L815.5,1085.0 L827.8,1101.0 L834.0,1093.0"/>
<path d="M834.0,1093.0 L857.0,1094.0"/>
<path d="M727.0,1122.0 L763.0,1122.0"/>
<path d="M735.0,1131.0 L755.0,1131.0"/>
<path d="M740.0,1141.0 L750.0,1141.0"/>
<path d="M857.0,1094.0 L857.0,1112.0"/>
<path d="M857.0,1112.0 L865.0,1119.0 L849.0,1133.0 L865.0,1147.0 L849.0,1161.0 L865.0,1175.0 L849.0,1189.0 L857.0,1196.0"/>
<path d="M858.0,1196.0 L859.0,1205.0 L859.0,1255.0"/>
<path d="M859,1269 L867.0,1255 L851.0,1255 Z"/>
<text x="878" y="1030" font-size="18.9" textLength="66" lengthAdjust="spacingAndGlyphs" style="stroke-width:0.4px">2N3393</text>
<text x="999" y="1054" font-size="20.3" textLength="29" lengthAdjust="spacingAndGlyphs">Q4</text>
<text x="779" y="1060" font-size="20.3" textLength="35" lengthAdjust="spacingAndGlyphs">RI9</text>
<text x="773" y="1081" font-size="20.3" textLength="48" lengthAdjust="spacingAndGlyphs">I00K</text>
<text x="798" y="1149" font-size="20.3" textLength="43" lengthAdjust="spacingAndGlyphs">R20</text>
<text x="804" y="1174" font-size="20.3" textLength="35" lengthAdjust="spacingAndGlyphs">I0K</text>
<text x="902" y="1171" font-size="20.3" textLength="36" lengthAdjust="spacingAndGlyphs">R2I</text>
<text x="914" y="1193" font-size="20.3" textLength="23" lengthAdjust="spacingAndGlyphs">IK</text>
<circle cx="1404" cy="867" r="48" fill="none"/>
<path d="M1277.0,850.0 L1384.0,850.0 L1384.0,882.0"/>
<path d="M1423.0,882.0 L1423.0,850.0 L1500.0,850.0"/>
<path d="M1379.0,882.0 L1428.0,882.0"/>
<path d="M1404.0,882.0 L1404.0,1011.0"/>
<path d="M1404.0,884.0 L1410.0,898.0 L1398.0,898.0 Z" fill="#242222" stroke-width="1"/>
<path d="M1386.0,1011 L1422.0,1011 L1404,1032 Z"/>
<path d="M1386.0,1032.0 L1422.0,1032.0"/>
<path d="M1404.0,1032.0 L1404.0,1192.0 L1679.0,1192.0 L1679.0,1164.0"/>
<circle cx="1277" cy="850" r="6.5" fill="#353233" stroke="none"/>
<circle cx="1500" cy="1192" r="6.5" fill="#353233" stroke="none"/>
<text x="1414" y="806" font-size="20.3" textLength="28" lengthAdjust="spacingAndGlyphs">Q5</text>
<text x="1340" y="841" font-size="20.3" textLength="12" lengthAdjust="spacingAndGlyphs">S</text>
<text x="1455" y="841" font-size="20.3" textLength="12" lengthAdjust="spacingAndGlyphs">D</text>
<text x="1412" y="937" font-size="20.3" textLength="13" lengthAdjust="spacingAndGlyphs">G</text>
<text x="1442" y="930" font-size="18.9" textLength="44" lengthAdjust="spacingAndGlyphs" style="stroke-width:0.4px">E2I2</text>
<text x="1345" y="1025" font-size="20.3" textLength="27" lengthAdjust="spacingAndGlyphs">D3</text>
<text x="1485" y="757" font-size="20.3" textLength="68" lengthAdjust="spacingAndGlyphs">GUARD</text>
<text transform="translate(1485,778) scale(0.86,1)" x="0" y="0" font-size="20.3" textLength="108.1" lengthAdjust="spacing">MADE OF</text>
<text transform="translate(1485,797) scale(0.86,1)" x="0" y="0" font-size="20.3" textLength="100.0" lengthAdjust="spacing">P.C. FOIL</text>
<path d="M1576,789 Q1595,792 1600,810" />
<path d="M1601.0,813.0 L1592.7,805.5 L1602.1,801.9 Z" fill="#242222" stroke-width="1"/>
<path d="M1500,886 L1567,886 L1567,931 L1631,931 L1631,885 L1694,885 L1694,817 L1500,817 Z" stroke-dasharray="14,9" stroke-width="3.2"/>
<path d="M1500.0,850.0 L1737.0,852.0"/>
<circle cx="1599" cy="852" r="6.5" fill="#353233" stroke="none"/>
<path d="M1599.0,852.0 L1599.0,975.0"/>
<path d="M1585.0,975.0 L1613.0,975.0"/>
<path d="M1585.0,991 Q1599,982 1613.0,991"/>
<path d="M1599.0,990.0 L1599.0,1036.0"/>
<path d="M1581.0,1036.0 L1617.0,1036.0"/>
<path d="M1589.0,1045.0 L1609.0,1045.0"/>
<path d="M1594.0,1055.0 L1604.0,1055.0"/>
<text x="1525" y="960" font-size="20.3" textLength="34" lengthAdjust="spacingAndGlyphs">CI7</text>
<text x="1511" y="981" font-size="20.3" textLength="67" lengthAdjust="spacingAndGlyphs">.05UF</text>
<text x="1508" y="1002" font-size="20.3" textLength="74" lengthAdjust="spacingAndGlyphs">MYLAR</text>
<path d="M1737,750 L1853,817.5 L1737,885 Z"/>
<path d="M1737.0,783.0 L1702.0,783.0 L1702.0,674.0"/>
<circle cx="1702" cy="725" r="6.5" fill="#353233" stroke="none"/>
<circle cx="1702" cy="674" r="6.5" fill="#353233" stroke="none"/>
<path d="M1702.0,753.0 L1631.0,753.0 L1631.0,817.0"/>
<circle cx="1631" cy="817" r="6.5" fill="#353233" stroke="none"/>
<path d="M1583.0,700.0 L1583.0,674.0 L1612.0,674.0"/>
<path d="M1565.0,700.0 L1601.0,700.0"/>
<path d="M1573.0,709.0 L1593.0,709.0"/>
<path d="M1578.0,719.0 L1588.0,719.0"/>
<path d="M1612.0,674.0 L1618.0,666.0 L1630.0,682.0 L1642.0,666.0 L1654.0,682.0 L1666.0,666.0 L1678.0,682.0 L1684.0,674.0"/>
<path d="M1684.0,674.0 L1844.0,674.0"/>
<path d="M1844.0,660.0 L1844.0,688.0"/>
<path d="M1852.0,660.0 L1852.0,688.0"/>
<path d="M1852.0,674.0 L1986.0,674.0 L1986.0,818.0"/>
<path d="M1702.0,725.0 L1874.0,725.0"/>
<path d="M1874.0,725.0 L1879.9,717.0 L1891.8,733.0 L1903.6,717.0 L1915.4,733.0 L1927.2,717.0 L1939.1,733.0 L1945.0,725.0"/>
<path d="M1945.0,725.0 L1986.0,725.0"/>
<circle cx="1986" cy="725" r="6.5" fill="#353233" stroke="none"/>
<path d="M1827.0,802.4 L1827.0,766.0"/>
<path d="M1827,752 L1835.0,766 L1819.0,766 Z"/>
<path d="M1760.0,871.6 L1760.0,914.0"/>
<path d="M1760,928 L1768.0,914 L1752.0,914 Z"/>
<path d="M1853.0,817.0 L1876.0,817.0"/>
<path d="M1876.0,818.0 L1881.9,810.0 L1893.8,826.0 L1905.6,810.0 L1917.4,826.0 L1929.2,810.0 L1941.1,826.0 L1947.0,818.0"/>
<path d="M1947.0,818.0 L2033.0,818.0"/>
<circle cx="1986" cy="818" r="6.5" fill="#353233" stroke="none"/>
<path d="M2033.0,818.0 L2038.8,810.0 L2050.2,826.0 L2061.8,810.0 L2073.2,826.0 L2084.8,810.0 L2096.2,826.0 L2102.0,818.0"/>
<path d="M2102.0,818.0 L2146.0,818.0 L2146.0,852.0"/>
<path d="M2128.0,852.0 L2164.0,852.0"/>
<path d="M2136.0,861.0 L2156.0,861.0"/>
<path d="M2141.0,871.0 L2151.0,871.0"/>
<path d="M2100.0,759.0 L2058.0,759.0 L2058.0,796.0"/>
<path d="M2058.0,810.0 L2052.0,796.0 L2064.0,796.0 Z" fill="#242222" stroke-width="1"/>
<path d="M1746.0,783.0 L1757.0,783.0" stroke-width="3"/>
<path d="M1745.0,851.0 L1757.0,851.0" stroke-width="3"/>
<path d="M1751.0,845.0 L1751.0,857.0" stroke-width="3"/>
<text x="1622" y="642" font-size="20.3" textLength="41" lengthAdjust="spacingAndGlyphs">R25</text>
<text x="1619" y="663" font-size="20.3" textLength="49" lengthAdjust="spacingAndGlyphs">I00K</text>
<text x="1888" y="693" font-size="20.3" textLength="37" lengthAdjust="spacingAndGlyphs">R26</text>
<text x="1883" y="715" font-size="20.3" textLength="48" lengthAdjust="spacingAndGlyphs">I00K</text>
<text x="1717" y="778" font-size="20.3" textLength="13" lengthAdjust="spacingAndGlyphs">2</text>
<text x="1717" y="845" font-size="20.3" textLength="13" lengthAdjust="spacingAndGlyphs">3</text>
<text x="1832" y="799" font-size="20.3" textLength="12" lengthAdjust="spacingAndGlyphs">7</text>
<text x="1850" y="841" font-size="20.3" textLength="12" lengthAdjust="spacingAndGlyphs">6</text>
<text x="1769" y="889" font-size="20.3" textLength="12" lengthAdjust="spacingAndGlyphs">4</text>
<text x="1765" y="820" font-size="20.3" textLength="28" lengthAdjust="spacingAndGlyphs">U6</text>
<text transform="translate(1813,889) scale(0.86,1)" x="0" y="0" font-size="21.8" textLength="108.1" lengthAdjust="spacing">536 FET</text>
<text x="1823" y="912" font-size="21.8" textLength="81" lengthAdjust="spacingAndGlyphs">OP AMP</text>
<text x="1880" y="783" font-size="20.3" textLength="38" lengthAdjust="spacingAndGlyphs">R27</text>
<text x="1894" y="804" font-size="20.3" textLength="21" lengthAdjust="spacingAndGlyphs">IK</text>
<text x="2008" y="808" font-size="18.9" textLength="27" lengthAdjust="spacingAndGlyphs" style="stroke-width:0.4px">CW</text>
<text x="2052" y="848" font-size="20.3" textLength="28" lengthAdjust="spacingAndGlyphs" style="stroke-width:0.6px">P2</text>
<text x="2050" y="870" font-size="20.3" textLength="36" lengthAdjust="spacingAndGlyphs" style="stroke-width:0.6px">I0K</text>
<text x="2050" y="893" font-size="20.3" textLength="34" lengthAdjust="spacingAndGlyphs" style="stroke-width:0.6px">LIN</text>
<text x="2107" y="720" font-size="20.3" textLength="42" lengthAdjust="spacingAndGlyphs" style="stroke-width:0.6px">R28</text>
<text x="2103" y="741" font-size="20.3" textLength="50" lengthAdjust="spacingAndGlyphs" style="stroke-width:0.6px">I00Ω</text>
<path d="M2100.0,759.0 L2100.0,759.0"/>
<path d="M2100.0,759.0 L2105.8,751.0 L2117.2,767.0 L2128.8,751.0 L2140.2,767.0 L2151.8,751.0 L2163.2,767.0 L2169.0,759.0"/>
<path d="M2169.0,759.0 L2507.0,760.0 L2507.0,762.0 L2571.0,762.0"/>
<circle cx="2578" cy="762" r="7" fill="none"/>
<text x="2572" y="745" font-size="20.3" textLength="13" lengthAdjust="spacingAndGlyphs" style="stroke-width:0.6px">C</text>
<text transform="translate(2608,771) scale(0.86,1)" x="0" y="0" font-size="21.8" textLength="295.3" lengthAdjust="spacing" style="stroke-width:0.6px">SAMPLE HOLD OUTPUT</text>
<text transform="translate(2169,824) scale(0.86,1)" x="0" y="0" font-size="21.8" textLength="159.3" lengthAdjust="spacing" style="stroke-width:0.6px">S/H OUTPUT</text>
<text x="2202" y="845" font-size="21.8" textLength="67" lengthAdjust="spacingAndGlyphs" style="stroke-width:0.6px">LEVEL</text>
<path d="M1680,970 L1688.0,984 L1672.0,984 Z"/>
<path d="M1680.0,984.0 L1680.0,1093.0"/>
<circle cx="1679" cy="1032" r="6.5" fill="#353233" stroke="none"/>
<path d="M1679.0,1032.0 L1708.0,1032.0"/>
<path d="M1708.0,1032.0 L1713.8,1024.0 L1725.2,1040.0 L1736.8,1024.0 L1748.2,1040.0 L1759.8,1024.0 L1771.2,1040.0 L1777.0,1032.0"/>
<path d="M1777.0,1032.0 L1818.0,1031.0"/>
<circle cx="1818" cy="1031" r="6.5" fill="#353233" stroke="none"/>
<path d="M1846.0,1031.0 L1852.1,1023.0 L1864.2,1039.0 L1876.4,1023.0 L1888.6,1039.0 L1900.8,1023.0 L1912.9,1039.0 L1919.0,1031.0"/>
<path d="M1818.0,1031.0 L1846.0,1031.0"/>
<path d="M1919.0,1031.0 L1950.0,1031.0 L1950.0,1093.0"/>
<circle cx="1709" cy="1129" r="49" fill="none"/>
<path d="M1738.0,1101.0 L1738.0,1158.0"/>
<path d="M1679.0,1093.0 L1738.0,1121.0"/>
<path d="M1726.0,1115.0 L1710.8,1114.5 L1715.9,1103.6 Z" fill="#242222" stroke-width="1"/>
<path d="M1738.0,1137.0 L1679.0,1164.0"/>
<path d="M1738.0,1129.0 L1818.0,1129.0 L1818.0,1031.0"/>
<circle cx="1982" cy="1129" r="49" fill="none"/>
<path d="M2006.0,1101.0 L2006.0,1158.0"/>
<path d="M1950.0,1093.0 L2006.0,1121.0"/>
<path d="M2006.0,1139.0 L1950.0,1158.0 L1950.0,1225.0"/>
<path d="M1962.0,1154.0 L1973.3,1143.8 L1977.2,1155.2 Z" fill="#242222" stroke-width="1"/>
<path d="M1932.0,1225.0 L1968.0,1225.0"/>
<path d="M1940.0,1234.0 L1960.0,1234.0"/>
<path d="M1945.0,1244.0 L1955.0,1244.0"/>
<path d="M2006.0,1129.0 L2119.0,1129.0"/>
<circle cx="2070" cy="1130" r="6.5" fill="#353233" stroke="none"/>
<circle cx="2119" cy="1130" r="6.5" fill="#353233" stroke="none"/>
<path d="M2070.0,1130.0 L2070.0,1195.0"/>
<path d="M2070.0,1195.0 L2078.0,1201.5 L2062.0,1214.5 L2078.0,1227.5 L2062.0,1240.5 L2078.0,1253.5 L2062.0,1266.5 L2070.0,1273.0"/>
<path d="M2070.0,1273.0 L2070.0,1308.0"/>
<path d="M2052.0,1308.0 L2088.0,1308.0"/>
<path d="M2060.0,1317.0 L2080.0,1317.0"/>
<path d="M2065.0,1327.0 L2075.0,1327.0"/>
<text x="1717" y="995" font-size="20.3" textLength="44" lengthAdjust="spacingAndGlyphs">R30</text>
<text x="1726" y="1018" font-size="20.3" textLength="25" lengthAdjust="spacingAndGlyphs">IK</text>
<text x="1857" y="995" font-size="20.3" textLength="37" lengthAdjust="spacingAndGlyphs">R3I</text>
<text x="1862" y="1016" font-size="20.3" textLength="35" lengthAdjust="spacingAndGlyphs">I0K</text>
<text x="1753" y="1092" font-size="20.3" textLength="28" lengthAdjust="spacingAndGlyphs">Q6</text>
<text x="1771" y="1162" font-size="18.9" textLength="67" lengthAdjust="spacingAndGlyphs" style="stroke-width:0.4px">2N3638</text>
<text x="2021" y="1086" font-size="20.3" textLength="28" lengthAdjust="spacingAndGlyphs" style="stroke-width:0.6px">Q7</text>
<text x="2040" y="1113" font-size="18.9" textLength="65" lengthAdjust="spacingAndGlyphs" style="stroke-width:0.4px">2N3393</text>
<text x="2007" y="1216" font-size="20.3" textLength="42" lengthAdjust="spacingAndGlyphs" style="stroke-width:0.6px">R32</text>
<text x="2005" y="1241" font-size="20.3" textLength="48" lengthAdjust="spacingAndGlyphs" style="stroke-width:0.6px">I00K</text>
<path d="M1500.0,1192.0 L1500.0,1206.0"/>
<path d="M1500.0,1206.0 L1508.0,1213.0 L1492.0,1227.0 L1508.0,1241.0 L1492.0,1255.0 L1508.0,1269.0 L1492.0,1283.0 L1500.0,1290.0"/>
<path d="M1500.0,1290.0 L1500.0,1311.0"/>
<path d="M1482.0,1311.0 L1518.0,1311.0"/>
<path d="M1490.0,1320.0 L1510.0,1320.0"/>
<path d="M1495.0,1330.0 L1505.0,1330.0"/>
<text x="1430" y="1242" font-size="20.3" textLength="45" lengthAdjust="spacingAndGlyphs">R29</text>
<text x="1438" y="1265" font-size="20.3" textLength="35" lengthAdjust="spacingAndGlyphs">I0K</text>
<path d="M2119.0,1274.0 L2119.0,982.0 L2208.0,982.0"/>
<path d="M2208.0,982.0 L2213.8,974.0 L2225.5,990.0 L2237.2,974.0 L2248.8,990.0 L2260.5,974.0 L2272.2,990.0 L2278.0,982.0"/>
<path d="M2278.0,983.0 L2318.0,985.0"/>
<circle cx="2324" cy="985" r="6" fill="none"/>
<circle cx="2383" cy="985" r="6" fill="none"/>
<path d="M2389.0,985.0 L2465.0,985.0"/>
<circle cx="2465" cy="985" r="6.5" fill="#353233" stroke="none"/>
<path d="M2322.0,972.0 L2386.0,972.0"/>
<path d="M2340,972 A14,14 0 0 1 2368,972"/>
<path d="M2465,838 L2473.0,852 L2457.0,852 Z"/>
<path d="M2465.0,852.0 L2465.0,886.0"/>
<path d="M2465.0,886.0 L2473.0,892.2 L2457.0,904.5 L2473.0,916.8 L2457.0,929.2 L2473.0,941.5 L2457.0,953.8 L2465.0,960.0"/>
<path d="M2465.0,960.0 L2465.0,1021.0"/>
<path d="M2451.0,1021.0 L2479.0,1021.0"/>
<path d="M2451.0,1040 Q2465,1031 2479.0,1040"/>
<path d="M2465.0,1039.0 L2465.0,1074.0"/>
<path d="M2447.0,1074.0 L2483.0,1074.0"/>
<path d="M2455.0,1083.0 L2475.0,1083.0"/>
<path d="M2460.0,1093.0 L2470.0,1093.0"/>
<text x="2331" y="898" font-size="21.8" textLength="44" lengthAdjust="spacingAndGlyphs" style="stroke-width:0.6px">S/H</text>
<text x="2315" y="921" font-size="21.8" textLength="83" lengthAdjust="spacingAndGlyphs" style="stroke-width:0.6px">MANUAL</text>
<text transform="translate(2311,942) scale(0.86,1)" x="0" y="0" font-size="21.8" textLength="101.2" lengthAdjust="spacing" style="stroke-width:0.6px">TRIGGER</text>
<text x="2204" y="947" font-size="20.3" textLength="41" lengthAdjust="spacingAndGlyphs" style="stroke-width:0.6px">R33</text>
<text x="2200" y="968" font-size="20.3" textLength="52" lengthAdjust="spacingAndGlyphs" style="stroke-width:0.6px">I50K</text>
<text x="2311" y="970" font-size="20.3" textLength="6" lengthAdjust="spacingAndGlyphs" style="stroke-width:0.6px">I</text>
<text x="2391" y="970" font-size="20.3" textLength="14" lengthAdjust="spacingAndGlyphs" style="stroke-width:0.6px">2</text>
<text x="2340" y="1011" font-size="20.3" textLength="24" lengthAdjust="spacingAndGlyphs" style="stroke-width:0.6px">S2</text>
<text x="2488" y="914" font-size="20.3" textLength="42" lengthAdjust="spacingAndGlyphs" style="stroke-width:0.6px">R34</text>
<text x="2497" y="937" font-size="20.3" textLength="24" lengthAdjust="spacingAndGlyphs" style="stroke-width:0.6px">IM</text>
<text x="2491" y="1021" font-size="20.3" textLength="34" lengthAdjust="spacingAndGlyphs" style="stroke-width:0.6px">CI9</text>
<text x="2491" y="1041" font-size="20.3" textLength="58" lengthAdjust="spacingAndGlyphs" style="stroke-width:0.6px">.0IUF</text>
<path d="M2119.0,1130.0 L2155.0,1130.0"/>
<path d="M2176,1113.5 L2155,1131 L2176,1148.5 Z"/>
<path d="M2155.0,1113.5 L2155.0,1148.5"/>
<path d="M2176.0,1131.0 L2202.0,1131.0"/>
<path d="M2202.0,1131.0 L2208.0,1123.0 L2220.0,1139.0 L2232.0,1123.0 L2244.0,1139.0 L2256.0,1123.0 L2268.0,1139.0 L2274.0,1131.0"/>
<path d="M2274.0,1131.0 L2564.0,1133.0"/>
<circle cx="2571" cy="1133" r="7" fill="none"/>
<text x="2146" y="1104" font-size="20.3" textLength="28" lengthAdjust="spacingAndGlyphs" style="stroke-width:0.6px">D4</text>
<text x="2216" y="1095" font-size="20.3" textLength="43" lengthAdjust="spacingAndGlyphs" style="stroke-width:0.6px">R35</text>
<text x="2211" y="1116" font-size="20.3" textLength="49" lengthAdjust="spacingAndGlyphs" style="stroke-width:0.6px">I00K</text>
<text x="2565" y="1116" font-size="20.3" textLength="13" lengthAdjust="spacingAndGlyphs" style="stroke-width:0.6px">E</text>
<text transform="translate(2608,1142) scale(0.86,1)" x="0" y="0" font-size="21.8" textLength="219.8" lengthAdjust="spacing" style="stroke-width:0.6px">S/H GATE INPUT</text>
<path d="M2119.0,1274.0 L2148.0,1274.0"/>
<path d="M2169,1256.5 L2148,1274 L2169,1291.5 Z"/>
<path d="M2148.0,1256.5 L2148.0,1291.5"/>
<path d="M2169.0,1274.0 L2201.0,1274.0"/>
<path d="M2201.0,1274.0 L2206.8,1266.0 L2218.5,1282.0 L2230.2,1266.0 L2241.8,1282.0 L2253.5,1266.0 L2265.2,1282.0 L2271.0,1274.0"/>
<path d="M2271.0,1274.0 L2320.0,1274.0"/>
<circle cx="2326" cy="1274" r="6" fill="none"/>
<path d="M2330.0,1278.0 L2363.0,1297.0"/>
<path d="M2360.0,1295.0 L2347.1,1293.4 L2352.0,1284.7 Z" fill="#242222" stroke-width="1"/>
<circle cx="2368" cy="1301" r="6" fill="none"/>
<circle cx="2368" cy="1245" r="6" fill="none"/>
<path d="M2374.0,1245.0 L2456.0,1245.0"/>
<circle cx="2418" cy="1245" r="6.5" fill="#353233" stroke="none"/>
<path d="M2456.0,1232.0 L2456.0,1260.0"/>
<path d="M2466.0,1232.0 L2466.0,1260.0"/>
<path d="M2466.0,1246.0 L2564.0,1248.0"/>
<circle cx="2515" cy="1246" r="6.5" fill="#353233" stroke="none"/>
<circle cx="2572" cy="1249" r="7" fill="none"/>
<path d="M2418.0,1245.0 L2418.0,1326.0"/>
<path d="M2418.0,1326.0 L2426.0,1332.4 L2410.0,1345.2 L2426.0,1358.1 L2410.0,1370.9 L2426.0,1383.8 L2410.0,1396.6 L2418.0,1403.0"/>
<path d="M2418.0,1403.0 L2418.0,1426.0"/>
<path d="M2400.0,1426.0 L2436.0,1426.0"/>
<path d="M2408.0,1435.0 L2428.0,1435.0"/>
<path d="M2413.0,1445.0 L2423.0,1445.0"/>
<path d="M2516.0,1246.0 L2516.0,1326.0"/>
<path d="M2516.0,1326.0 L2524.0,1332.4 L2508.0,1345.2 L2524.0,1358.1 L2508.0,1370.9 L2524.0,1383.8 L2508.0,1396.6 L2516.0,1403.0"/>
<path d="M2516.0,1403.0 L2516.0,1426.0"/>
<path d="M2498.0,1426.0 L2534.0,1426.0"/>
<path d="M2506.0,1435.0 L2526.0,1435.0"/>
<path d="M2511.0,1445.0 L2521.0,1445.0"/>
<path d="M2369.0,1307.0 L2369.0,1839.0"/>
<text x="2145" y="1246" font-size="20.3" textLength="24" lengthAdjust="spacingAndGlyphs" style="stroke-width:0.6px">D5</text>
<text x="2217" y="1239" font-size="20.3" textLength="40" lengthAdjust="spacingAndGlyphs" style="stroke-width:0.6px">R36</text>
<text x="2211" y="1262" font-size="20.3" textLength="50" lengthAdjust="spacingAndGlyphs" style="stroke-width:0.6px">I00K</text>
<text x="2315" y="1229" font-size="20.3" textLength="22" lengthAdjust="spacingAndGlyphs" style="stroke-width:0.6px">SI</text>
<text x="2307" y="1267" font-size="20.3" textLength="12" lengthAdjust="spacingAndGlyphs" style="stroke-width:0.6px">2</text>
<text x="2365" y="1232" font-size="20.3" textLength="3" lengthAdjust="spacingAndGlyphs" style="stroke-width:0.6px">I</text>
<text x="2382" y="1236" font-size="17.4" textLength="41" lengthAdjust="spacingAndGlyphs" style="stroke-width:0.4px">EXT.</text>
<text x="2442" y="1204" font-size="20.3" textLength="41" lengthAdjust="spacingAndGlyphs" style="stroke-width:0.6px">C29</text>
<text x="2434" y="1223" font-size="20.3" textLength="65" lengthAdjust="spacingAndGlyphs" style="stroke-width:0.6px">00IUF</text>
<text x="2566" y="1234" font-size="20.3" textLength="14" lengthAdjust="spacingAndGlyphs" style="stroke-width:0.6px">D</text>
<text x="2381" y="1301" font-size="20.3" textLength="12" lengthAdjust="spacingAndGlyphs" style="stroke-width:0.6px">3</text>
<text x="2379" y="1322" font-size="18.9" textLength="63" lengthAdjust="spacingAndGlyphs" style="stroke-width:0.4px">CLOCK</text>
<text x="2291" y="1319" font-size="18.9" textLength="32" lengthAdjust="spacingAndGlyphs" style="stroke-width:0.4px">S/H</text>
<text transform="translate(2271,1340) scale(0.86,1)" x="0" y="0" font-size="18.9" textLength="101.2" lengthAdjust="spacing" style="stroke-width:0.4px">TRIGGER</text>
<text x="2271" y="1359" font-size="18.9" textLength="73" lengthAdjust="spacingAndGlyphs" style="stroke-width:0.4px">SWITCH</text>
<text x="2432" y="1348" font-size="20.3" textLength="39" lengthAdjust="spacingAndGlyphs" style="stroke-width:0.6px">R37</text>
<text x="2432" y="1371" font-size="20.3" textLength="49" lengthAdjust="spacingAndGlyphs" style="stroke-width:0.6px">I00K</text>
<text x="2534" y="1348" font-size="20.3" textLength="42" lengthAdjust="spacingAndGlyphs" style="stroke-width:0.6px">R38</text>
<text x="2532" y="1371" font-size="20.3" textLength="50" lengthAdjust="spacingAndGlyphs" style="stroke-width:0.6px">I00K</text>
<text transform="translate(2598,1256) scale(0.86,1)" x="0" y="0" font-size="21.8" textLength="331.4" lengthAdjust="spacing" style="stroke-width:0.6px">EXT. S/H TRIGGER INPUT</text>
<path d="M747,1243 L755.0,1257 L739.0,1257 Z"/>
<path d="M747.0,1257.0 L747.0,1289.0"/>
<path d="M747.0,1289.0 L755.0,1295.6 L739.0,1308.8 L755.0,1321.9 L739.0,1335.1 L755.0,1348.2 L739.0,1361.4 L747.0,1368.0"/>
<path d="M747.0,1368.0 L747.0,1395.0"/>
<path d="M747,1409 L755.0,1395 L739.0,1395 Z"/>
<path d="M769.0,1323.0 L762.0,1323.0"/>
<path d="M752.0,1323.0 L764.0,1317.0 L764.0,1329.0 Z" fill="#242222" stroke-width="1"/>
<path d="M769.0,1323.0 L775.1,1315.0 L787.2,1331.0 L799.4,1315.0 L811.6,1331.0 L823.8,1315.0 L835.9,1331.0 L842.0,1323.0"/>
<path d="M842.0,1323.0 L918.0,1323.0"/>
<circle cx="859" cy="1323" r="6.5" fill="#353233" stroke="none"/>
<path d="M918.0,1323.0 L923.8,1315.0 L935.5,1331.0 L947.2,1315.0 L958.8,1331.0 L970.5,1315.0 L982.2,1331.0 L988.0,1323.0"/>
<path d="M988.0,1323.0 L1070.0,1323.0 L1070.0,1599.0"/>
<path d="M859.0,1323.0 L859.0,1566.0"/>
<circle cx="859" cy="1402" r="6.5" fill="#353233" stroke="none"/>
<circle cx="1070" cy="1405" r="6.5" fill="#353233" stroke="none"/>
<circle cx="859" cy="1564" r="6.5" fill="#353233" stroke="none"/>
<path d="M859.0,1402.0 L946.0,1405.0"/>
<path d="M946.0,1390.0 L946.0,1420.0"/>
<path d="M955.0,1390.0 L955.0,1420.0"/>
<path d="M955.0,1405.0 L1070.0,1405.0"/>
<path d="M708.0,1400.0 L708.0,1386.0"/>
<path d="M708.0,1376.0 L713.0,1387.0 L703.0,1387.0 Z" fill="#242222" stroke-width="1"/>
<text transform="translate(413,1332) scale(0.86,1)" x="0" y="0" font-size="21.8" textLength="252.3" lengthAdjust="spacing">CLOCK FREQUENCY</text>
<text x="685" y="1312" font-size="20.3" textLength="21" lengthAdjust="spacingAndGlyphs">PI</text>
<text x="667" y="1337" font-size="20.3" textLength="53" lengthAdjust="spacingAndGlyphs">I00K</text>
<text x="681" y="1360" font-size="20.3" textLength="36" lengthAdjust="spacingAndGlyphs">LIN</text>
<text x="665" y="1400" font-size="20.3" textLength="32" lengthAdjust="spacingAndGlyphs">CW</text>
<text x="787" y="1287" font-size="20.3" textLength="41" lengthAdjust="spacingAndGlyphs">R39</text>
<text x="778" y="1309" font-size="20.3" textLength="55" lengthAdjust="spacingAndGlyphs">390K</text>
<text x="930" y="1286" font-size="20.3" textLength="39" lengthAdjust="spacingAndGlyphs">R4I</text>
<text x="930" y="1307" font-size="20.3" textLength="42" lengthAdjust="spacingAndGlyphs">56K</text>
<text x="937" y="1361" font-size="20.3" textLength="41" lengthAdjust="spacingAndGlyphs">C20</text>
<text x="923" y="1383" font-size="20.3" textLength="67" lengthAdjust="spacingAndGlyphs">.00IUF</text>
<text x="956" y="1448" font-size="18.9" textLength="32" lengthAdjust="spacingAndGlyphs" style="stroke-width:0.4px">C2I</text>
<text x="956" y="1467" font-size="18.9" textLength="43" lengthAdjust="spacingAndGlyphs" style="stroke-width:0.4px">33PF</text>
<path d="M902,1531 L1020,1598.5 L902,1666 Z"/>
<circle cx="743" cy="1566" r="8" fill="none"/>
<path d="M751.0,1566.0 L766.0,1566.0"/>
<path d="M766.0,1566.0 L772.2,1558.0 L784.5,1574.0 L796.8,1558.0 L809.2,1574.0 L821.5,1558.0 L833.8,1574.0 L840.0,1566.0"/>
<path d="M840.0,1566.0 L902.0,1566.0"/>
<path d="M902.0,1629.0 L858.0,1629.0 L858.0,1680.0"/>
<path d="M840.0,1680.0 L876.0,1680.0"/>
<path d="M848.0,1689.0 L868.0,1689.0"/>
<path d="M853.0,1699.0 L863.0,1699.0"/>
<path d="M916.0,1539.0 L916.0,1483.0 L932.0,1483.0"/>
<path d="M932.0,1471.0 L932.0,1499.0"/>
<path d="M955.0,1561.3 L955.0,1483.0 L942.0,1483.0"/>
<path d="M942.0,1471.0 L942.0,1499.0"/>
<path d="M991.0,1581.9 L991.0,1538.0"/>
<path d="M991,1524 L999.0,1538 L983.0,1538 Z"/>
<path d="M936.0,1646.6 L936.0,1692.0"/>
<path d="M936,1706 L944.0,1692 L928.0,1692 Z"/>
<path d="M1020.0,1599.0 L1092.0,1599.0"/>
<circle cx="1070" cy="1599" r="6.5" fill="#353233" stroke="none"/>
<path d="M1092.0,1599.0 L1097.9,1591.0 L1109.8,1607.0 L1121.6,1591.0 L1133.4,1607.0 L1145.2,1591.0 L1157.1,1607.0 L1163.0,1599.0"/>
<path d="M1163.0,1599.0 L1215.0,1599.0"/>
<circle cx="1215" cy="1599" r="6.5" fill="#353233" stroke="none"/>
<text transform="translate(389,1562) scale(0.86,1)" x="0" y="0" font-size="21.8" textLength="373.3" lengthAdjust="spacing">CLOCK FREQUENCY CONTROL</text>
<text x="512" y="1589" font-size="21.8" textLength="65" lengthAdjust="spacingAndGlyphs">INPUT</text>
<text x="736" y="1550" font-size="20.3" textLength="14" lengthAdjust="spacingAndGlyphs">K</text>
<text x="778" y="1527" font-size="20.3" textLength="44" lengthAdjust="spacingAndGlyphs">R40</text>
<text x="775" y="1552" font-size="20.3" textLength="53" lengthAdjust="spacingAndGlyphs">I00K</text>
<text x="882" y="1557" font-size="20.3" textLength="13" lengthAdjust="spacingAndGlyphs">2</text>
<text x="882" y="1621" font-size="20.3" textLength="13" lengthAdjust="spacingAndGlyphs">3</text>
<text x="905" y="1520" font-size="20.3" textLength="4" lengthAdjust="spacingAndGlyphs">I</text>
<text x="937" y="1541" font-size="20.3" textLength="12" lengthAdjust="spacingAndGlyphs">8</text>
<text x="999" y="1575" font-size="20.3" textLength="12" lengthAdjust="spacingAndGlyphs">7</text>
<text x="930" y="1603" font-size="20.3" textLength="28" lengthAdjust="spacingAndGlyphs">U7</text>
<text x="1015" y="1624" font-size="20.3" textLength="14" lengthAdjust="spacingAndGlyphs">6</text>
<text x="946" y="1666" font-size="20.3" textLength="14" lengthAdjust="spacingAndGlyphs">4</text>
<text x="1103" y="1561" font-size="20.3" textLength="44" lengthAdjust="spacingAndGlyphs">R43</text>
<text x="1097" y="1583" font-size="20.3" textLength="51" lengthAdjust="spacingAndGlyphs">I00K</text>
<path d="M1211.0,1390.0 L1211.0,1323.0 L1270.0,1323.0"/>
<path d="M1284.0,1323.0 L1270.0,1329.0 L1270.0,1317.0 Z" fill="#242222" stroke-width="1"/>
<path d="M1211.0,1390.0 L1219.0,1395.8 L1203.0,1407.5 L1219.0,1419.2 L1203.0,1430.8 L1219.0,1442.5 L1203.0,1454.2 L1211.0,1460.0"/>
<path d="M1211.0,1460.0 L1211.0,1517.0"/>
<circle cx="1211" cy="1517" r="6.5" fill="#353233" stroke="none"/>
<path d="M1211.0,1517.0 L1211.0,1540.0"/>
<path d="M1214.0,1547.0 L1215.0,1599.0"/>
<path d="M1211.0,1517.0 L1309.0,1517.0"/>
<path d="M1293,1243 L1301.0,1257 L1285.0,1257 Z"/>
<path d="M1293.0,1257.0 L1293.0,1280.0"/>
<path d="M1293.0,1280.0 L1301.0,1286.2 L1285.0,1298.5 L1301.0,1310.8 L1285.0,1323.2 L1301.0,1335.5 L1285.0,1347.8 L1293.0,1354.0"/>
<path d="M1293.0,1354.0 L1293.0,1390.0"/>
<path d="M1293,1404 L1301.0,1390 L1285.0,1390 Z"/>
<circle cx="1252" cy="1287" r="12" fill="none"/>
<path d="M1252.0,1277.0 L1252.0,1297.0" stroke-width="3"/>
<path d="M1315.0,1413.0 L1315.0,1427.0"/>
<path d="M1315.0,1437.0 L1310.0,1426.0 L1320.0,1426.0 Z" fill="#242222" stroke-width="1"/>
<path d="M1215.0,1599.0 L1215.0,1615.0"/>
<path d="M1215.0,1615.0 L1223.0,1622.1 L1207.0,1636.2 L1223.0,1650.4 L1207.0,1664.6 L1223.0,1678.8 L1207.0,1692.9 L1215.0,1700.0"/>
<path d="M1215.0,1700.0 L1214.0,1714.0"/>
<path d="M1196.0,1714.0 L1232.0,1714.0"/>
<path d="M1204.0,1723.0 L1224.0,1723.0"/>
<path d="M1209.0,1733.0 L1219.0,1733.0"/>
<text x="1145" y="1420" font-size="20.3" textLength="42" lengthAdjust="spacingAndGlyphs">R42</text>
<text x="1141" y="1442" font-size="20.3" textLength="55" lengthAdjust="spacingAndGlyphs">470K</text>
<text x="1157" y="1647" font-size="20.3" textLength="46" lengthAdjust="spacingAndGlyphs">R44</text>
<text x="1156" y="1666" font-size="20.3" textLength="47" lengthAdjust="spacingAndGlyphs">3.3K</text>
<text x="1316" y="1295" font-size="20.3" textLength="19" lengthAdjust="spacingAndGlyphs">TI</text>
<text x="1309" y="1317" font-size="20.3" textLength="42" lengthAdjust="spacingAndGlyphs">50K</text>
<text x="1309" y="1349" font-size="21.8" textLength="67" lengthAdjust="spacingAndGlyphs">CLOCK</text>
<text transform="translate(1311,1370) scale(0.86,1)" x="0" y="0" font-size="21.8" textLength="143.0" lengthAdjust="spacing">FREQUENCY</text>
<text x="1312" y="1391" font-size="21.8" textLength="52" lengthAdjust="spacingAndGlyphs">TRIM</text>
<text x="1274" y="1427" font-size="18.9" textLength="28" lengthAdjust="spacingAndGlyphs" style="stroke-width:0.4px">CW</text>
<circle cx="1339" cy="1511" r="46" fill="none"/>
<path d="M1309.0,1490.0 L1309.0,1538.0"/>
<path d="M1309.0,1503.0 L1356.0,1478.0 L1356.0,1435.0 L1533.0,1435.0 L1533.0,1461.0"/>
<circle cx="1471" cy="1435" r="6.5" fill="#353233" stroke="none"/>
<path d="M1515.0,1461.0 L1551.0,1461.0"/>
<path d="M1523.0,1470.0 L1543.0,1470.0"/>
<path d="M1528.0,1480.0 L1538.0,1480.0"/>
<path d="M1309.0,1526.0 L1356.0,1559.0 L1357.0,1598.0"/>
<path d="M1346.0,1552.0 L1331.1,1548.9 L1338.0,1539.0 Z" fill="#242222" stroke-width="1"/>
<path d="M1357.0,1598.0 L1423.0,1598.0"/>
<circle cx="1357" cy="1598" r="6.5" fill="#353233" stroke="none"/>
<circle cx="1453" cy="1594" r="48" fill="none"/>
<path d="M1423.0,1570.0 L1423.0,1618.0"/>
<path d="M1471.0,1435.0 L1471.0,1559.0 L1423.0,1583.0"/>
<path d="M1436.0,1577.0 L1445.7,1565.3 L1451.2,1575.9 Z" fill="#242222" stroke-width="1"/>
<path d="M1423.0,1606.0 L1471.0,1638.0 L1472.0,1789.0"/>
<path d="M1357.0,1598.0 L1358.0,1608.0"/>
<path d="M1358.0,1608.0 L1366.0,1614.7 L1350.0,1628.0 L1366.0,1641.3 L1350.0,1654.7 L1366.0,1668.0 L1350.0,1681.3 L1358.0,1688.0"/>
<path d="M1358.0,1688.0 L1357.0,1689.0"/>
<path d="M1357,1703 L1365.0,1689 L1349.0,1689 Z"/>
<text x="1388" y="1490" font-size="20.3" textLength="30" lengthAdjust="spacingAndGlyphs">Q8</text>
<text x="1392" y="1527" font-size="18.9" textLength="65" lengthAdjust="spacingAndGlyphs" style="stroke-width:0.4px">2N3393</text>
<text x="1492" y="1553" font-size="20.3" textLength="28" lengthAdjust="spacingAndGlyphs">Q9</text>
<text x="1513" y="1588" font-size="18.9" textLength="66" lengthAdjust="spacingAndGlyphs" style="stroke-width:0.4px">2N3638</text>
<text x="1293" y="1643" font-size="20.3" textLength="44" lengthAdjust="spacingAndGlyphs">R45</text>
<text x="1286" y="1663" font-size="20.3" textLength="55" lengthAdjust="spacingAndGlyphs">470K</text>
<path d="M1580.0,1354.0 L1580.0,1324.0 L1602.0,1324.0"/>
<path d="M1562.0,1354.0 L1598.0,1354.0"/>
<path d="M1570.0,1363.0 L1590.0,1363.0"/>
<path d="M1575.0,1373.0 L1585.0,1373.0"/>
<path d="M1602.0,1324.0 L1607.8,1316.0 L1619.5,1332.0 L1631.2,1316.0 L1642.8,1332.0 L1654.5,1316.0 L1666.2,1332.0 L1672.0,1324.0"/>
<path d="M1672.0,1324.0 L1829.0,1324.0"/>
<circle cx="1720" cy="1324" r="6.5" fill="#353233" stroke="none"/>
<circle cx="1774" cy="1324" r="6.5" fill="#353233" stroke="none"/>
<path d="M1829.0,1324.0 L1834.8,1316.0 L1846.2,1332.0 L1857.8,1316.0 L1869.2,1332.0 L1880.8,1316.0 L1892.2,1332.0 L1898.0,1324.0"/>
<path d="M1898.0,1324.0 L1982.0,1324.0 L1982.0,1597.0"/>
<path d="M1720.0,1324.0 L1720.0,1359.0"/>
<path d="M1720.0,1359.0 L1728.0,1365.6 L1712.0,1378.8 L1728.0,1391.9 L1712.0,1405.1 L1728.0,1418.2 L1712.0,1431.4 L1720.0,1438.0"/>
<path d="M1720.0,1438.0 L1720.0,1465.0"/>
<path d="M1720,1479 L1728.0,1465 L1712.0,1465 Z"/>
<path d="M1774.0,1324.0 L1774.0,1565.0 L1820.0,1565.0"/>
<circle cx="1774" cy="1407" r="6.5" fill="#353233" stroke="none"/>
<circle cx="1982" cy="1407" r="6.5" fill="#353233" stroke="none"/>
<path d="M1774.0,1407.0 L1859.0,1407.0"/>
<path d="M1859.0,1392.0 L1859.0,1422.0"/>
<path d="M1869.0,1392.0 L1869.0,1422.0"/>
<path d="M1869.0,1407.0 L1982.0,1407.0"/>
<path d="M1820,1528 L1935,1595.0 L1820,1662 Z"/>
<path d="M1834.0,1536.2 L1834.0,1486.0 L1848.0,1486.0"/>
<path d="M1848.0,1470.0 L1848.0,1498.0"/>
<path d="M1873.0,1558.9 L1873.0,1486.0 L1859.0,1486.0"/>
<path d="M1859.0,1470.0 L1859.0,1498.0"/>
<path d="M1917.0,1584.5 L1917.0,1541.0"/>
<path d="M1917,1527 L1925.0,1541 L1909.0,1541 Z"/>
<path d="M1850.0,1644.5 L1850.0,1685.0"/>
<path d="M1850,1699 L1858.0,1685 L1842.0,1685 Z"/>
<path d="M1935.0,1595.0 L2160.0,1599.0"/>
<circle cx="1982" cy="1597" r="6.5" fill="#353233" stroke="none"/>
<path d="M2160.0,1599.0 L2165.9,1591.0 L2177.8,1607.0 L2189.6,1591.0 L2201.4,1607.0 L2213.2,1591.0 L2225.1,1607.0 L2231.0,1599.0"/>
<path d="M2231.0,1599.0 L2564.0,1601.0"/>
<circle cx="2571" cy="1601" r="7" fill="none"/>
<path d="M1820.0,1629.0 L1661.0,1629.0"/>
<circle cx="1771" cy="1629" r="6.5" fill="#353233" stroke="none"/>
<circle cx="1661" cy="1629" r="6.5" fill="#353233" stroke="none"/>
<path d="M1771.0,1629.0 L1773.0,1808.0"/>
<circle cx="1773" cy="1808" r="6.5" fill="#353233" stroke="none"/>
<path d="M1661,1491 L1669.0,1505 L1653.0,1505 Z"/>
<path d="M1661.0,1505.0 L1661.0,1537.0"/>
<path d="M1661.0,1537.0 L1669.0,1542.9 L1653.0,1554.8 L1669.0,1566.6 L1653.0,1578.4 L1669.0,1590.2 L1653.0,1602.1 L1661.0,1608.0"/>
<path d="M1661.0,1608.0 L1661.0,1650.0"/>
<path d="M1661.0,1650.0 L1669.0,1656.0 L1653.0,1668.0 L1669.0,1680.0 L1653.0,1692.0 L1669.0,1704.0 L1653.0,1716.0 L1661.0,1722.0"/>
<path d="M1661.0,1722.0 L1662.0,1750.0"/>
<text x="1612" y="1285" font-size="20.3" textLength="42" lengthAdjust="spacingAndGlyphs">R50</text>
<text x="1612" y="1308" font-size="20.3" textLength="42" lengthAdjust="spacingAndGlyphs">33K</text>
<text x="1847" y="1292" font-size="20.3" textLength="38" lengthAdjust="spacingAndGlyphs">R5I</text>
<text x="1848" y="1311" font-size="20.3" textLength="37" lengthAdjust="spacingAndGlyphs">I0K</text>
<text x="1647" y="1391" font-size="20.3" textLength="44" lengthAdjust="spacingAndGlyphs">R66</text>
<text x="1649" y="1412" font-size="20.3" textLength="44" lengthAdjust="spacingAndGlyphs">33K</text>
<text x="1843" y="1364" font-size="20.3" textLength="42" lengthAdjust="spacingAndGlyphs">C23</text>
<text x="1838" y="1387" font-size="20.3" textLength="61" lengthAdjust="spacingAndGlyphs">I00PF</text>
<text x="1875" y="1449" font-size="18.9" textLength="31" lengthAdjust="spacingAndGlyphs" style="stroke-width:0.4px">C24</text>
<text x="1875" y="1468" font-size="18.9" textLength="40" lengthAdjust="spacingAndGlyphs" style="stroke-width:0.4px">33PF</text>
<text x="1600" y="1567" font-size="20.3" textLength="42" lengthAdjust="spacingAndGlyphs">R48</text>
<text x="1607" y="1590" font-size="20.3" textLength="35" lengthAdjust="spacingAndGlyphs">I5K</text>
<text x="1824" y="1521" font-size="20.3" textLength="3" lengthAdjust="spacingAndGlyphs">I</text>
<text x="1801" y="1555" font-size="20.3" textLength="10" lengthAdjust="spacingAndGlyphs">2</text>
<text x="1877" y="1553" font-size="20.3" textLength="12" lengthAdjust="spacingAndGlyphs">8</text>
<text x="1926" y="1579" font-size="20.3" textLength="12" lengthAdjust="spacingAndGlyphs" style="stroke-width:0.6px">7</text>
<text x="1845" y="1600" font-size="20.3" textLength="26" lengthAdjust="spacingAndGlyphs">U8</text>
<text x="1935" y="1618" font-size="20.3" textLength="12" lengthAdjust="spacingAndGlyphs" style="stroke-width:0.6px">6</text>
<text x="1799" y="1623" font-size="20.3" textLength="12" lengthAdjust="spacingAndGlyphs">3</text>
<text x="1861" y="1662" font-size="20.3" textLength="12" lengthAdjust="spacingAndGlyphs">4</text>
<text x="1602" y="1673" font-size="20.3" textLength="41" lengthAdjust="spacingAndGlyphs">R49</text>
<text x="1602" y="1696" font-size="20.3" textLength="46" lengthAdjust="spacingAndGlyphs">8.2K</text>
<text x="2162" y="1558" font-size="20.3" textLength="44" lengthAdjust="spacingAndGlyphs" style="stroke-width:0.6px">R52</text>
<text x="2180" y="1581" font-size="20.3" textLength="21" lengthAdjust="spacingAndGlyphs" style="stroke-width:0.6px">IK</text>
<text x="2566" y="1585" font-size="20.3" textLength="12" lengthAdjust="spacingAndGlyphs" style="stroke-width:0.6px">J</text>
<text transform="translate(2615,1585) scale(0.86,1)" x="0" y="0" font-size="21.8" textLength="336.0" lengthAdjust="spacing" style="stroke-width:0.6px">CLOCK SAWTOOTH OUTPUT</text>
<text x="1708" y="1506" font-size="20">*</text>
<path d="M1050.0,1820.0 L1050.0,1789.0 L1087.0,1789.0"/>
<path d="M1032.0,1820.0 L1068.0,1820.0"/>
<path d="M1040.0,1829.0 L1060.0,1829.0"/>
<path d="M1045.0,1839.0 L1055.0,1839.0"/>
<path d="M1087.0,1789.0 L1093.1,1781.0 L1105.2,1797.0 L1117.4,1781.0 L1129.6,1797.0 L1141.8,1781.0 L1153.9,1797.0 L1160.0,1789.0"/>
<path d="M1160.0,1789.0 L1318.0,1788.0"/>
<circle cx="1335" cy="1806" r="48" fill="none"/>
<path d="M1318.0,1778.0 L1318.0,1834.0"/>
<path d="M1258.0,1938.0 L1258.0,1915.0"/>
<path d="M1258.0,1841.0 L1266.0,1847.2 L1250.0,1859.5 L1266.0,1871.8 L1250.0,1884.2 L1266.0,1896.5 L1250.0,1908.8 L1258.0,1915.0"/>
<path d="M1258.0,1841.0 L1258.0,1822.0 L1318.0,1822.0"/>
<path d="M1258.0,1938.0 L1428.0,1938.0"/>
<path d="M1318.0,1805.0 L1382.0,1786.0 L1428.0,1789.0"/>
<path d="M1321.0,1804.0 L1332.8,1794.4 L1336.1,1805.9 Z" fill="#242222" stroke-width="1"/>
<path d="M1428.0,1789.0 L1610.0,1789.0"/>
<circle cx="1428" cy="1789" r="6.5" fill="#353233" stroke="none"/>
<circle cx="1472" cy="1789" r="6.5" fill="#353233" stroke="none"/>
<circle cx="1547" cy="1789" r="6.5" fill="#353233" stroke="none"/>
<path d="M1428.0,1789.0 L1428.0,1870.0"/>
<path d="M1413.0,1870.0 L1443.0,1870.0"/>
<path d="M1413.0,1889 Q1428,1880 1443.0,1889"/>
<path d="M1428.0,1888.0 L1428.0,1967.0"/>
<circle cx="1428" cy="1937" r="6.5" fill="#353233" stroke="none"/>
<path d="M1428,1981 L1436.0,1967 L1420.0,1967 Z"/>
<path d="M1398.0,1861.0 L1408.0,1861.0" stroke-width="3"/>
<path d="M1403.0,1856.0 L1403.0,1866.0" stroke-width="3"/>
<path d="M1398.0,1891.0 L1408.0,1891.0" stroke-width="3"/>
<text x="1098" y="1755" font-size="20.3" textLength="46" lengthAdjust="spacingAndGlyphs">R46</text>
<text x="1112" y="1776" font-size="20.3" textLength="21" lengthAdjust="spacingAndGlyphs">IK</text>
<text x="1260" y="1778" font-size="20.3" textLength="25" lengthAdjust="spacingAndGlyphs">B2</text>
<text x="1260" y="1816" font-size="20.3" textLength="20" lengthAdjust="spacingAndGlyphs">BI</text>
<text x="1281" y="1748" font-size="20.3" textLength="37" lengthAdjust="spacingAndGlyphs">QI0</text>
<text x="1330" y="1748" font-size="20.3" textLength="83" lengthAdjust="spacingAndGlyphs">2N4870</text>
<text x="1389" y="1812" font-size="20.3" textLength="12" lengthAdjust="spacingAndGlyphs">E</text>
<text x="1197" y="1871" font-size="20.3" textLength="40" lengthAdjust="spacingAndGlyphs">R47</text>
<text x="1195" y="1894" font-size="20.3" textLength="46" lengthAdjust="spacingAndGlyphs">I0Ω</text>
<text x="1447" y="1870" font-size="20.3" textLength="40" lengthAdjust="spacingAndGlyphs">C22</text>
<text x="1452" y="1893" font-size="20.3" textLength="35" lengthAdjust="spacingAndGlyphs">IUF</text>
<text x="1447" y="1916" font-size="20.3" textLength="53" lengthAdjust="spacingAndGlyphs">TANT.</text>
<circle cx="1639" cy="1791" r="48" fill="none"/>
<path d="M1610.0,1765.0 L1610.0,1814.0"/>
<path d="M1662.0,1750.0 L1610.0,1780.0"/>
<path d="M1622.0,1773.0 L1631.1,1760.8 L1637.1,1771.2 Z" fill="#242222" stroke-width="1"/>
<path d="M1610.0,1800.0 L1662.0,1826.0 L1662.0,1870.0"/>
<path d="M1662,1884 L1670.0,1870 L1654.0,1870 Z"/>
<path d="M1547.0,1789.0 L1547.0,2002.0 L1896.0,2002.0 L1896.0,2118.0"/>
<text x="1558" y="1830" font-size="20.3" textLength="32" lengthAdjust="spacingAndGlyphs">QII</text>
<text transform="translate(1558,1863) scale(0.86,1)" x="0" y="0" font-size="18.9" textLength="88.4" lengthAdjust="spacing" style="stroke-width:0.4px">MPS-A65</text>
<path d="M1821,1772 L1935,1839.5 L1821,1907 Z"/>
<path d="M1773.0,1808.0 L1821.0,1808.0"/>
<path d="M1773.0,1808.0 L1773.0,1835.0"/>
<path d="M1758.0,1835.0 L1788.0,1835.0"/>
<path d="M1758.0,1852 Q1773,1843 1788.0,1852"/>
<path d="M1773.0,1851.0 L1773.0,1935.0"/>
<circle cx="1773" cy="1874" r="6.5" fill="#353233" stroke="none"/>
<path d="M1773.0,1874.0 L1821.0,1874.0"/>
<path d="M1755.0,1935.0 L1791.0,1935.0"/>
<path d="M1763.0,1944.0 L1783.0,1944.0"/>
<path d="M1768.0,1954.0 L1778.0,1954.0"/>
<path d="M1914.0,1827.1 L1914.0,1786.0"/>
<path d="M1914,1772 L1922.0,1786 L1906.0,1786 Z"/>
<path d="M1852.0,1888.6 L1852.0,1934.0"/>
<path d="M1852,1948 L1860.0,1934 L1844.0,1934 Z"/>
<text x="1706" y="1835" font-size="20.3" textLength="39" lengthAdjust="spacingAndGlyphs">C25</text>
<text x="1690" y="1858" font-size="20.3" textLength="60" lengthAdjust="spacingAndGlyphs">I00PF</text>
<text x="1801" y="1800" font-size="20.3" textLength="11" lengthAdjust="spacingAndGlyphs">2</text>
<text x="1803" y="1865" font-size="20.3" textLength="12" lengthAdjust="spacingAndGlyphs">3</text>
<text x="1888" y="1810" font-size="20.3" textLength="12" lengthAdjust="spacingAndGlyphs">7</text>
<text x="1847" y="1842" font-size="20.3" textLength="26" lengthAdjust="spacingAndGlyphs">U9</text>
<text x="1930" y="1861" font-size="20.3" textLength="12" lengthAdjust="spacingAndGlyphs" style="stroke-width:0.6px">6</text>
<text x="1859" y="1907" font-size="20.3" textLength="13" lengthAdjust="spacingAndGlyphs">4</text>
<path d="M1935.0,1839.0 L2004.0,1839.0"/>
<circle cx="1969" cy="1839" r="6.5" fill="#353233" stroke="none"/>
<path d="M2004.0,1824.0 L2004.0,1854.0"/>
<path d="M2019,1824.0 Q2010,1839 2019,1854.0"/>
<path d="M2016.0,1839.0 L2092.0,1839.0"/>
<circle cx="2057" cy="1839" r="6.5" fill="#353233" stroke="none"/>
<path d="M2092,1819.0 L2111,1839 L2092,1859.0 Z"/>
<path d="M2111.0,1819.0 L2111.0,1859.0"/>
<path d="M2111.0,1839.0 L2152.0,1839.0"/>
<path d="M2152.0,1839.0 L2158.0,1831.0 L2170.0,1847.0 L2182.0,1831.0 L2194.0,1847.0 L2206.0,1831.0 L2218.0,1847.0 L2224.0,1839.0"/>
<path d="M2224.0,1839.0 L2564.0,1843.0"/>
<circle cx="2566" cy="1843" r="7" fill="none"/>
<circle cx="2260" cy="1839" r="6.5" fill="#353233" stroke="none"/>
<circle cx="2318" cy="1839" r="6.5" fill="#353233" stroke="none"/>
<circle cx="2369" cy="1839" r="6.5" fill="#353233" stroke="none"/>
<path d="M1969.0,1839.0 L1969.0,1695.0 L2092.0,1695.0"/>
<path d="M2092,1675.0 L2111,1695 L2092,1715.0 Z"/>
<path d="M2111.0,1675.0 L2111.0,1715.0"/>
<path d="M2111.0,1695.0 L2154.0,1695.0"/>
<path d="M2154.0,1695.0 L2160.0,1687.0 L2172.0,1703.0 L2184.0,1687.0 L2196.0,1703.0 L2208.0,1687.0 L2220.0,1703.0 L2226.0,1695.0"/>
<path d="M2226.0,1695.0 L2561.0,1698.0"/>
<circle cx="2318" cy="1695" r="6.5" fill="#353233" stroke="none"/>
<circle cx="2568" cy="1698" r="7" fill="none"/>
<path d="M2318.0,1695.0 L2318.0,1703.0"/>
<path d="M2318.0,1703.0 L2326.0,1710.2 L2310.0,1724.5 L2326.0,1738.8 L2310.0,1753.2 L2326.0,1767.5 L2310.0,1781.8 L2318.0,1789.0"/>
<path d="M2318.0,1789.0 L2318.0,1802.0"/>
<path d="M2300.0,1802.0 L2336.0,1802.0"/>
<path d="M2308.0,1811.0 L2328.0,1811.0"/>
<path d="M2313.0,1821.0 L2323.0,1821.0"/>
<path d="M2057.0,1839.0 L2057.0,1870.0"/>
<path d="M2057.0,1870.0 L2065.0,1876.5 L2049.0,1889.5 L2065.0,1902.5 L2049.0,1915.5 L2065.0,1928.5 L2049.0,1941.5 L2057.0,1948.0"/>
<path d="M2057.0,1948.0 L2057.0,1967.0"/>
<path d="M2039.0,1967.0 L2075.0,1967.0"/>
<path d="M2047.0,1976.0 L2067.0,1976.0"/>
<path d="M2052.0,1986.0 L2062.0,1986.0"/>
<path d="M2318.0,1839.0 L2318.0,1874.0"/>
<path d="M2318.0,1874.0 L2326.0,1880.4 L2310.0,1893.2 L2326.0,1906.1 L2310.0,1918.9 L2326.0,1931.8 L2310.0,1944.6 L2318.0,1951.0"/>
<path d="M2318.0,1951.0 L2318.0,1971.0"/>
<path d="M2300.0,1971.0 L2336.0,1971.0"/>
<path d="M2308.0,1980.0 L2328.0,1980.0"/>
<path d="M2313.0,1990.0 L2323.0,1990.0"/>
<path d="M1628.0,2052.0 L2092.0,2052.0"/>
<circle cx="2055" cy="2052" r="6.5" fill="#353233" stroke="none"/>
<path d="M2092,2032.0 L2111,2052 L2092,2072.0 Z"/>
<path d="M2111.0,2032.0 L2111.0,2072.0"/>
<path d="M2111.0,2052.0 L2151.0,2052.0"/>
<path d="M2151.0,2052.0 L2157.0,2044.0 L2169.0,2060.0 L2181.0,2044.0 L2193.0,2060.0 L2205.0,2044.0 L2217.0,2060.0 L2223.0,2052.0"/>
<path d="M2223.0,2052.0 L2260.0,2052.0 L2260.0,1839.0"/>
<path d="M2055.0,2052.0 L2055.0,2114.0"/>
<path d="M2040.5,2114.0 L2069.5,2114.0"/>
<path d="M2040.5,2131 Q2055,2122 2069.5,2131"/>
<path d="M2055.0,2130.0 L2055.0,2182.0"/>
<path d="M2037.0,2182.0 L2073.0,2182.0"/>
<path d="M2045.0,2191.0 L2065.0,2191.0"/>
<path d="M2050.0,2201.0 L2060.0,2201.0"/>
<text x="2090" y="1668" font-size="20.3" textLength="25" lengthAdjust="spacingAndGlyphs" style="stroke-width:0.6px">D6</text>
<text x="2166" y="1661" font-size="20.3" textLength="44" lengthAdjust="spacingAndGlyphs" style="stroke-width:0.6px">R64</text>
<text x="2159" y="1682" font-size="20.3" textLength="60" lengthAdjust="spacingAndGlyphs" style="stroke-width:0.6px">390Ω</text>
<text x="2260" y="1743" font-size="20.3" textLength="42" lengthAdjust="spacingAndGlyphs" style="stroke-width:0.6px">R65</text>
<text x="2260" y="1766" font-size="20.3" textLength="45" lengthAdjust="spacingAndGlyphs" style="stroke-width:0.6px">2.2K</text>
<text x="1992" y="1800" font-size="20.3" textLength="40" lengthAdjust="spacingAndGlyphs" style="stroke-width:0.6px">C26</text>
<text x="1986" y="1821" font-size="20.3" textLength="53" lengthAdjust="spacingAndGlyphs" style="stroke-width:0.6px">0.IUF</text>
<text x="2090" y="1812" font-size="20.3" textLength="25" lengthAdjust="spacingAndGlyphs" style="stroke-width:0.6px">D7</text>
<text x="2163" y="1807" font-size="20.3" textLength="35" lengthAdjust="spacingAndGlyphs" style="stroke-width:0.6px">R6I</text>
<text x="2159" y="1828" font-size="20.3" textLength="46" lengthAdjust="spacingAndGlyphs" style="stroke-width:0.6px">3.3K</text>
<text x="1993" y="1900" font-size="20.3" textLength="43" lengthAdjust="spacingAndGlyphs" style="stroke-width:0.6px">R60</text>
<text x="1995" y="1923" font-size="20.3" textLength="39" lengthAdjust="spacingAndGlyphs" style="stroke-width:0.6px">I0K</text>
<text x="2341" y="1895" font-size="20.3" textLength="40" lengthAdjust="spacingAndGlyphs" style="stroke-width:0.6px">R63</text>
<text x="2334" y="1916" font-size="20.3" textLength="47" lengthAdjust="spacingAndGlyphs" style="stroke-width:0.6px">4.7K</text>
<text x="2082" y="2020" font-size="20.3" textLength="27" lengthAdjust="spacingAndGlyphs" style="stroke-width:0.6px">D8</text>
<text x="2161" y="2013" font-size="20.3" textLength="40" lengthAdjust="spacingAndGlyphs" style="stroke-width:0.6px">R62</text>
<text x="2159" y="2036" font-size="20.3" textLength="48" lengthAdjust="spacingAndGlyphs" style="stroke-width:0.6px">2.2K</text>
<text x="2077" y="2113" font-size="20.3" textLength="41" lengthAdjust="spacingAndGlyphs" style="stroke-width:0.6px">C28</text>
<text x="2079" y="2133" font-size="20.3" textLength="52" lengthAdjust="spacingAndGlyphs" style="stroke-width:0.6px">0.IUF</text>
<text x="2562" y="1680" font-size="20.3" textLength="13" lengthAdjust="spacingAndGlyphs" style="stroke-width:0.6px">H</text>
<text transform="translate(2612,1693) scale(0.86,1)" x="0" y="0" font-size="21.8" textLength="290.7" lengthAdjust="spacing" style="stroke-width:0.6px">CLOCK SQUARE OUTPUT</text>
<text x="2562" y="1825" font-size="20.3" textLength="11" lengthAdjust="spacingAndGlyphs" style="stroke-width:0.6px">T</text>
<text transform="translate(2610,1837) scale(0.86,1)" x="0" y="0" font-size="21.8" textLength="305.8" lengthAdjust="spacing" style="stroke-width:0.6px">CLOCK TRIGGER OUTPUT</text>
<path d="M2650.0,1634.0 L2680.0,1603.0 L2680.0,1636.0 L2712.0,1603.0 L2712.0,1636.0 L2744.0,1603.0 L2744.0,1636.0 L2777.0,1603.0 L2777.0,1636.0" stroke-width="3"/>
<text x="2793" y="1619" font-size="21.8" textLength="58" lengthAdjust="spacingAndGlyphs" style="stroke-width:0.6px">+I0V</text>
<text x="2795" y="1645" font-size="21.8" textLength="12" lengthAdjust="spacingAndGlyphs" style="stroke-width:0.6px">0</text>
<path d="M2640.0,1742.0 L2663.0,1742.0 L2663.0,1714.0 L2685.0,1714.0 L2685.0,1742.0 L2711.0,1742.0 L2711.0,1714.0 L2734.0,1714.0 L2734.0,1742.0 L2760.0,1742.0 L2760.0,1714.0 L2784.0,1714.0 L2784.0,1742.0" stroke-width="3"/>
<text x="2798" y="1724" font-size="21.8" textLength="50" lengthAdjust="spacingAndGlyphs" style="stroke-width:0.6px">+I0V</text>
<text x="2798" y="1749" font-size="21.8" textLength="13" lengthAdjust="spacingAndGlyphs" style="stroke-width:0.6px">0</text>
<path d="M2640.0,1892.0 L2783.0,1892.0" stroke-width="3"/>
<path d="M2662.0,1892.0 L2662.0,1862.0" stroke-width="3"/>
<path d="M2694.0,1892.0 L2694.0,1862.0" stroke-width="3"/>
<path d="M2724.0,1892.0 L2724.0,1862.0" stroke-width="3"/>
<path d="M2759.0,1892.0 L2759.0,1862.0" stroke-width="3"/>
<text x="2793" y="1869" font-size="21.8" textLength="53" lengthAdjust="spacingAndGlyphs" style="stroke-width:0.6px">+I5V</text>
<text x="2793" y="1897" font-size="21.8" textLength="14" lengthAdjust="spacingAndGlyphs" style="stroke-width:0.6px">0</text>
<circle cx="740" cy="2149" r="8" fill="none"/>
<path d="M748.0,2149.0 L911.0,2149.0"/>
<circle cx="853" cy="2149" r="6.5" fill="#353233" stroke="none"/>
<path d="M911.0,2133.0 L911.0,2165.0"/>
<path d="M922.0,2133.0 L922.0,2165.0"/>
<path d="M922.0,2149.0 L969.0,2149.0"/>
<path d="M969.0,2150.0 L975.0,2142.0 L987.0,2158.0 L999.0,2142.0 L1011.0,2158.0 L1023.0,2142.0 L1035.0,2158.0 L1041.0,2150.0"/>
<path d="M1041.0,2151.0 L1166.0,2151.0"/>
<circle cx="1091" cy="2151" r="6.5" fill="#353233" stroke="none"/>
<path d="M853.0,2149.0 L853.0,2187.0"/>
<path d="M853.0,2187.0 L861.0,2192.8 L845.0,2204.5 L861.0,2216.2 L845.0,2227.8 L861.0,2239.5 L845.0,2251.2 L853.0,2257.0"/>
<path d="M853.0,2257.0 L853.0,2281.0"/>
<path d="M835.0,2281.0 L871.0,2281.0"/>
<path d="M843.0,2290.0 L863.0,2290.0"/>
<path d="M848.0,2300.0 L858.0,2300.0"/>
<path d="M1091.0,2151.0 L1091.0,2185.0"/>
<path d="M1091.0,2185.0 L1099.0,2191.0 L1083.0,2203.0 L1099.0,2215.0 L1083.0,2227.0 L1099.0,2239.0 L1083.0,2251.0 L1091.0,2257.0"/>
<path d="M1091.0,2257.0 L1091.0,2282.0"/>
<path d="M1073.0,2282.0 L1109.0,2282.0"/>
<path d="M1081.0,2291.0 L1101.0,2291.0"/>
<path d="M1086.0,2301.0 L1096.0,2301.0"/>
<circle cx="1194" cy="2151" r="48" fill="none"/>
<path d="M1166.0,2125.0 L1166.0,2174.0"/>
<path d="M1166.0,2140.0 L1225.0,2116.0 L1225.0,2050.0 L1245.0,2050.0"/>
<path d="M1245.0,2050.0 L1250.8,2042.0 L1262.5,2058.0 L1274.2,2042.0 L1285.8,2058.0 L1297.5,2042.0 L1309.2,2058.0 L1315.0,2050.0"/>
<path d="M1315.0,2050.0 L1380.0,2052.0"/>
<circle cx="1357" cy="2051" r="6.5" fill="#353233" stroke="none"/>
<path d="M1166.0,2163.0 L1225.0,2184.0 L1226.0,2276.0"/>
<path d="M1212.0,2179.0 L1196.8,2180.1 L1200.7,2168.7 Z" fill="#242222" stroke-width="1"/>
<path d="M1208.0,2276.0 L1244.0,2276.0"/>
<path d="M1216.0,2285.0 L1236.0,2285.0"/>
<path d="M1221.0,2295.0 L1231.0,2295.0"/>
<path d="M1380.0,2052.0 L1385.8,2044.0 L1397.5,2060.0 L1409.2,2044.0 L1420.8,2060.0 L1432.5,2044.0 L1444.2,2060.0 L1450.0,2052.0"/>
<path d="M1450.0,2052.0 L1491.0,2052.0"/>
<circle cx="1491" cy="2052" r="6.5" fill="#353233" stroke="none"/>
<path d="M1491.0,2052.0 L1491.0,2013.0"/>
<path d="M1491,1999 L1499.0,2013 L1483.0,2013 Z"/>
<path d="M1357.0,2051.0 L1357.0,2148.0 L1435.0,2148.0"/>
<circle cx="1464" cy="2148" r="49" fill="none"/>
<path d="M1435.0,2123.0 L1435.0,2175.0"/>
<path d="M1491.0,2052.0 L1492.0,2114.0 L1435.0,2138.0"/>
<path d="M1449.0,2132.0 L1459.6,2121.1 L1464.2,2132.1 Z" fill="#242222" stroke-width="1"/>
<path d="M1435.0,2160.0 L1492.0,2185.0 L1492.0,2249.0 L1654.0,2249.0"/>
<circle cx="1630" cy="2249" r="6.5" fill="#353233" stroke="none"/>
<path d="M1629.0,2052.0 L1630.0,2249.0"/>
<path d="M1654.0,2249.0 L1659.8,2241.0 L1671.5,2257.0 L1683.2,2241.0 L1694.8,2257.0 L1706.5,2241.0 L1718.2,2257.0 L1724.0,2249.0"/>
<path d="M1724.0,2249.0 L1785.0,2249.0"/>
<circle cx="1758" cy="2249" r="6.5" fill="#353233" stroke="none"/>
<path d="M1785.0,2249.0 L1790.8,2241.0 L1802.5,2257.0 L1814.2,2241.0 L1825.8,2257.0 L1837.5,2241.0 L1849.2,2257.0 L1855.0,2249.0"/>
<path d="M1855.0,2249.0 L1896.0,2249.0"/>
<circle cx="1896" cy="2249" r="6.5" fill="#353233" stroke="none"/>
<path d="M1896.0,2249.0 L1896.0,2278.0"/>
<path d="M1896,2292 L1904.0,2278 L1888.0,2278 Z"/>
<path d="M1758.0,2249.0 L1758.0,2148.0 L1839.0,2148.0"/>
<circle cx="1866" cy="2148" r="49" fill="none"/>
<path d="M1839.0,2124.0 L1839.0,2178.0"/>
<path d="M1839.0,2138.0 L1896.0,2118.0"/>
<path d="M1839.0,2160.0 L1896.0,2183.0 L1896.0,2249.0"/>
<path d="M1883.0,2178.0 L1867.8,2178.3 L1872.3,2167.1 Z" fill="#242222" stroke-width="1"/>
<text transform="translate(488,2158) scale(0.86,1)" x="0" y="0" font-size="21.8" textLength="250.0" lengthAdjust="spacing">CLOCK SYNC INPUT</text>
<text x="735" y="2131" font-size="20.3" textLength="12" lengthAdjust="spacingAndGlyphs">L</text>
<text x="901" y="2103" font-size="20.3" textLength="38" lengthAdjust="spacingAndGlyphs">C27</text>
<text x="884" y="2127" font-size="20.3" textLength="69" lengthAdjust="spacingAndGlyphs">.00IUF</text>
<text x="981" y="2112" font-size="20.3" textLength="48" lengthAdjust="spacingAndGlyphs">R58</text>
<text x="981" y="2136" font-size="20.3" textLength="48" lengthAdjust="spacingAndGlyphs">I00K</text>
<text x="797" y="2205" font-size="20.3" textLength="36" lengthAdjust="spacingAndGlyphs">R59</text>
<text x="790" y="2227" font-size="20.3" textLength="49" lengthAdjust="spacingAndGlyphs">I00K</text>
<text x="1033" y="2207" font-size="20.3" textLength="40" lengthAdjust="spacingAndGlyphs">R57</text>
<text x="1027" y="2231" font-size="20.3" textLength="52" lengthAdjust="spacingAndGlyphs">I00K</text>
<text x="1237" y="2112" font-size="20.3" textLength="36" lengthAdjust="spacingAndGlyphs">QI4</text>
<text x="1254" y="2151" font-size="18.9" textLength="66" lengthAdjust="spacingAndGlyphs" style="stroke-width:0.4px">2N3393</text>
<text x="1251" y="2013" font-size="20.3" textLength="42" lengthAdjust="spacingAndGlyphs">R56</text>
<text x="1259" y="2037" font-size="20.3" textLength="35" lengthAdjust="spacingAndGlyphs">I0K</text>
<text x="1378" y="2013" font-size="20.3" textLength="46" lengthAdjust="spacingAndGlyphs">R55</text>
<text x="1399" y="2036" font-size="20.3" textLength="23" lengthAdjust="spacingAndGlyphs">IK</text>
<text x="1516" y="2109" font-size="20.3" textLength="35" lengthAdjust="spacingAndGlyphs">QI3</text>
<text x="1526" y="2146" font-size="18.9" textLength="66" lengthAdjust="spacingAndGlyphs" style="stroke-width:0.4px">2N3638</text>
<text x="1916" y="2108" font-size="20.3" textLength="37" lengthAdjust="spacingAndGlyphs" style="stroke-width:0.6px">QI2</text>
<text x="1923" y="2178" font-size="18.9" textLength="67" lengthAdjust="spacingAndGlyphs" style="stroke-width:0.4px">2N3393</text>
<text x="1662" y="2213" font-size="20.3" textLength="42" lengthAdjust="spacingAndGlyphs">R54</text>
<text x="1669" y="2235" font-size="20.3" textLength="35" lengthAdjust="spacingAndGlyphs">I0K</text>
<text x="1792" y="2213" font-size="20.3" textLength="38" lengthAdjust="spacingAndGlyphs">R53</text>
<text x="1807" y="2235" font-size="20.3" textLength="22" lengthAdjust="spacingAndGlyphs">IK</text>
<text transform="translate(2657,2184) scale(0.86,1)" x="0" y="0" font-size="42.2" textLength="183.7" lengthAdjust="spacing" style="stroke-width:0.3px">AR - 3I8</text>
<text transform="translate(2657,2234) scale(0.86,1)" x="0" y="0" font-size="42.2" textLength="358.1" lengthAdjust="spacing" style="stroke-width:0.3px">SAMPLE/HOLD,</text>
<text transform="translate(2657,2284) scale(0.86,1)" x="0" y="0" font-size="42.2" textLength="690.7" lengthAdjust="spacing" style="stroke-width:0.3px">CLOCK AND NOISE GENERATOR</text>
</g>
</g>
</svg>
</body></html>
